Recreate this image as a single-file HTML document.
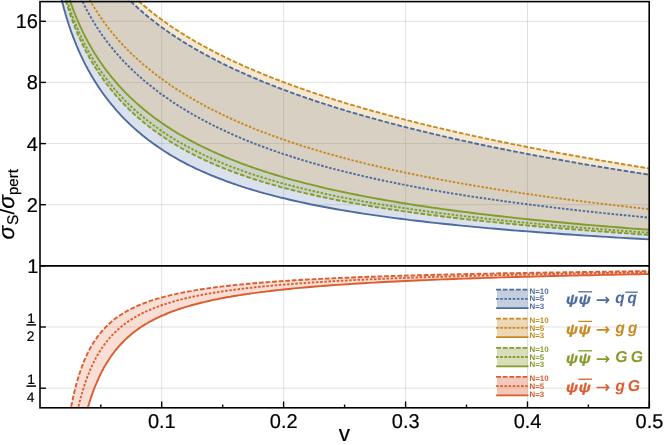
<!DOCTYPE html>
<html><head><meta charset="utf-8"><title>plot</title>
<style>
html,body{margin:0;padding:0;background:#fff;}
body{width:664px;height:445px;overflow:hidden;}
svg{display:block;will-change:transform;font-family:"Liberation Sans",sans-serif;}
text{text-rendering:geometricPrecision;}
</style></head><body>
<svg width="664" height="445" viewBox="0 0 664 445">
<defs><clipPath id="cp"><rect x="40.0" y="0.1" width="609.2" height="407.7"/></clipPath></defs>
<g stroke="#000" stroke-opacity="0.15" stroke-width="0.8" fill="none">
<line x1="161.7" y1="1.6" x2="161.7" y2="407.8"/>
<line x1="283.6" y1="1.6" x2="283.6" y2="407.8"/>
<line x1="405.6" y1="1.6" x2="405.6" y2="407.8"/>
<line x1="527.5" y1="1.6" x2="527.5" y2="407.8"/>
<line x1="40.0" y1="21.3" x2="649.2" y2="21.3"/>
<line x1="40.0" y1="82.4" x2="649.2" y2="82.4"/>
<line x1="40.0" y1="143.6" x2="649.2" y2="143.6"/>
<line x1="40.0" y1="204.7" x2="649.2" y2="204.7"/>
<line x1="40.0" y1="327.0" x2="649.2" y2="327.0"/>
<line x1="40.0" y1="388.2" x2="649.2" y2="388.2"/>
</g>
<g clip-path="url(#cp)" stroke-linejoin="round">
<path d="M44.7,-40.0 L45.2,-40.0 L45.8,-40.0 L46.4,-40.0 L47.0,-40.0 L47.5,-40.0 L48.1,-40.0 L48.7,-40.0 L49.2,-40.0 L49.8,-40.0 L50.4,-40.0 L50.9,-40.0 L51.5,-40.0 L52.1,-40.0 L52.6,-40.0 L53.2,-40.0 L53.8,-39.7 L54.3,-36.2 L54.9,-32.8 L55.5,-29.6 L56.1,-26.4 L56.6,-23.4 L57.2,-20.5 L57.8,-17.6 L58.3,-14.9 L58.9,-12.2 L59.5,-9.6 L60.0,-7.1 L60.6,-4.7 L61.2,-2.3 L61.7,0.0 L62.3,2.3 L62.9,4.5 L63.5,6.7 L64.0,8.8 L64.6,10.8 L65.2,12.8 L65.7,14.8 L66.3,16.7 L66.9,18.6 L67.4,20.4 L68.0,22.2 L68.6,24.0 L69.1,25.7 L69.7,27.4 L70.3,29.0 L70.8,30.7 L71.4,32.3 L72.0,33.8 L72.6,35.4 L73.1,36.9 L73.7,38.4 L74.3,39.9 L74.8,41.3 L75.4,42.7 L76.0,44.1 L76.5,45.5 L77.1,46.9 L77.7,48.2 L78.2,49.5 L78.8,50.8 L79.4,52.1 L80.0,53.4 L80.5,54.6 L81.1,55.8 L81.7,57.0 L82.2,58.2 L82.8,59.4 L83.4,60.6 L83.9,61.7 L84.5,62.9 L85.1,64.0 L85.6,65.1 L86.2,66.2 L86.8,67.2 L87.3,68.3 L87.9,69.4 L88.5,70.4 L89.1,71.4 L89.6,72.4 L90.2,73.4 L90.8,74.4 L91.3,75.4 L91.9,76.4 L92.5,77.3 L93.0,78.3 L93.6,79.2 L94.2,80.1 L94.7,81.1 L95.3,82.0 L95.9,82.9 L96.5,83.8 L97.0,84.6 L97.6,85.5 L98.2,86.4 L98.7,87.2 L99.3,88.1 L99.9,88.9 L100.4,89.7 L101.0,90.6 L101.6,91.4 L102.1,92.2 L102.7,93.0 L103.3,93.8 L103.8,94.6 L104.4,95.3 L105.0,96.1 L105.6,96.9 L106.1,97.6 L106.7,98.4 L107.3,99.1 L107.8,99.9 L108.4,100.6 L109.0,101.3 L109.5,102.0 L110.1,102.7 L110.7,103.4 L111.2,104.1 L111.8,104.8 L112.4,105.5 L113.0,106.2 L114.8,108.4 L116.7,110.6 L118.6,112.7 L120.5,114.8 L122.4,116.8 L124.3,118.8 L126.2,120.7 L128.1,122.5 L130.0,124.4 L131.9,126.1 L133.8,127.9 L135.7,129.6 L137.6,131.2 L139.5,132.8 L141.4,134.4 L143.3,136.0 L145.2,137.5 L147.1,139.0 L149.0,140.4 L150.9,141.8 L152.8,143.2 L154.7,144.6 L156.6,145.9 L158.5,147.2 L160.4,148.5 L162.3,149.8 L164.2,151.0 L166.1,152.2 L168.0,153.4 L169.8,154.6 L171.7,155.7 L173.6,156.8 L175.5,157.9 L177.4,159.0 L179.3,160.1 L181.2,161.1 L183.1,162.1 L185.0,163.1 L186.9,164.1 L188.8,165.1 L190.7,166.0 L192.6,166.9 L194.5,167.9 L196.4,168.8 L198.3,169.6 L200.2,170.5 L202.1,171.4 L204.0,172.2 L205.9,173.0 L207.8,173.9 L209.7,174.7 L211.6,175.5 L213.5,176.2 L215.4,177.0 L217.3,177.7 L219.2,178.5 L221.1,179.2 L223.0,179.9 L224.8,180.6 L226.7,181.3 L228.6,182.0 L230.5,182.7 L232.4,183.4 L234.3,184.0 L236.2,184.7 L238.1,185.3 L240.0,185.9 L241.9,186.6 L243.8,187.2 L245.7,187.8 L247.6,188.4 L249.5,188.9 L251.4,189.5 L253.3,190.1 L255.2,190.7 L257.1,191.2 L259.0,191.8 L260.9,192.3 L262.8,192.8 L264.7,193.4 L266.6,193.9 L268.5,194.4 L270.4,194.9 L272.3,195.4 L274.2,195.9 L276.1,196.4 L278.0,196.8 L279.8,197.3 L281.7,197.8 L283.6,198.2 L288.9,199.5 L294.2,200.7 L299.5,201.9 L304.8,203.0 L310.1,204.2 L315.4,205.2 L320.7,206.3 L326.0,207.3 L331.3,208.2 L336.6,209.2 L341.9,210.1 L347.3,211.0 L352.6,211.9 L357.9,212.7 L363.2,213.6 L368.5,214.4 L373.8,215.1 L379.1,215.9 L384.4,216.6 L389.7,217.4 L395.0,218.1 L400.3,218.8 L405.6,219.4 L410.9,220.1 L416.2,220.7 L421.5,221.3 L426.8,222.0 L432.1,222.6 L437.4,223.1 L442.7,223.7 L448.0,224.3 L453.3,224.8 L458.6,225.4 L463.9,225.9 L469.2,226.4 L474.5,226.9 L479.8,227.4 L485.1,227.9 L490.4,228.4 L495.7,228.8 L501.0,229.3 L506.3,229.7 L511.6,230.2 L516.9,230.6 L522.2,231.0 L527.5,231.4 L532.8,231.8 L538.1,232.2 L543.4,232.6 L548.7,233.0 L554.0,233.4 L559.3,233.8 L564.6,234.2 L569.9,234.5 L575.2,234.9 L580.5,235.2 L585.8,235.6 L591.1,235.9 L596.4,236.3 L601.7,236.6 L607.0,236.9 L612.3,237.2 L617.6,237.6 L622.9,237.9 L628.2,238.2 L633.5,238.5 L638.8,238.8 L644.1,239.1 L649.4,239.4 L649.4,174.7 L644.1,173.9 L638.8,173.1 L633.5,172.3 L628.2,171.4 L622.9,170.6 L617.6,169.7 L612.3,168.9 L607.0,168.0 L601.7,167.1 L596.4,166.3 L591.1,165.4 L585.8,164.5 L580.5,163.6 L575.2,162.6 L569.9,161.7 L564.6,160.8 L559.3,159.8 L554.0,158.9 L548.7,157.9 L543.4,156.9 L538.1,156.0 L532.8,155.0 L527.5,154.0 L522.2,152.9 L516.9,151.9 L511.6,150.9 L506.3,149.8 L501.0,148.8 L495.7,147.7 L490.4,146.6 L485.1,145.5 L479.8,144.4 L474.5,143.2 L469.2,142.1 L463.9,140.9 L458.6,139.8 L453.3,138.6 L448.0,137.4 L442.7,136.2 L437.4,134.9 L432.1,133.7 L426.8,132.4 L421.5,131.1 L416.2,129.8 L410.9,128.5 L405.6,127.2 L400.3,125.8 L395.0,124.4 L389.7,123.0 L384.4,121.6 L379.1,120.2 L373.8,118.7 L368.5,117.2 L363.2,115.7 L357.9,114.2 L352.6,112.6 L347.3,111.1 L341.9,109.4 L336.6,107.8 L331.3,106.1 L326.0,104.5 L320.7,102.7 L315.4,101.0 L310.1,99.2 L304.8,97.4 L299.5,95.5 L294.2,93.6 L288.9,91.7 L283.6,89.7 L281.7,89.0 L279.8,88.3 L278.0,87.6 L276.1,86.8 L274.2,86.1 L272.3,85.4 L270.4,84.6 L268.5,83.9 L266.6,83.1 L264.7,82.3 L262.8,81.6 L260.9,80.8 L259.0,80.0 L257.1,79.2 L255.2,78.4 L253.3,77.6 L251.4,76.8 L249.5,76.0 L247.6,75.2 L245.7,74.3 L243.8,73.5 L241.9,72.6 L240.0,71.8 L238.1,70.9 L236.2,70.1 L234.3,69.2 L232.4,68.3 L230.5,67.4 L228.6,66.5 L226.7,65.6 L224.8,64.7 L223.0,63.7 L221.1,62.8 L219.2,61.8 L217.3,60.9 L215.4,59.9 L213.5,58.9 L211.6,58.0 L209.7,57.0 L207.8,55.9 L205.9,54.9 L204.0,53.9 L202.1,52.9 L200.2,51.8 L198.3,50.7 L196.4,49.7 L194.5,48.6 L192.6,47.5 L190.7,46.3 L188.8,45.2 L186.9,44.1 L185.0,42.9 L183.1,41.7 L181.2,40.5 L179.3,39.3 L177.4,38.1 L175.5,36.9 L173.6,35.6 L171.7,34.3 L169.8,33.0 L168.0,31.7 L166.1,30.4 L164.2,29.0 L162.3,27.7 L160.4,26.3 L158.5,24.9 L156.6,23.4 L154.7,22.0 L152.8,20.5 L150.9,19.0 L149.0,17.5 L147.1,15.9 L145.2,14.3 L143.3,12.7 L141.4,11.1 L139.5,9.4 L137.6,7.7 L135.7,5.9 L133.8,4.2 L131.9,2.4 L130.0,0.5 L128.1,-1.4 L126.2,-3.3 L124.3,-5.3 L122.4,-7.3 L120.5,-9.3 L118.6,-11.4 L116.7,-13.6 L114.8,-15.8 L113.0,-18.1 L112.4,-18.8 L111.8,-19.5 L111.2,-20.2 L110.7,-20.9 L110.1,-21.6 L109.5,-22.3 L109.0,-23.0 L108.4,-23.8 L107.8,-24.5 L107.3,-25.2 L106.7,-26.0 L106.1,-26.7 L105.6,-27.5 L105.0,-28.3 L104.4,-29.1 L103.8,-29.8 L103.3,-30.6 L102.7,-31.4 L102.1,-32.2 L101.6,-33.0 L101.0,-33.9 L100.4,-34.7 L99.9,-35.5 L99.3,-36.4 L98.7,-37.2 L98.2,-38.1 L97.6,-38.9 L97.0,-39.8 L96.5,-40.0 L95.9,-40.0 L95.3,-40.0 L94.7,-40.0 L94.2,-40.0 L93.6,-40.0 L93.0,-40.0 L92.5,-40.0 L91.9,-40.0 L91.3,-40.0 L90.8,-40.0 L90.2,-40.0 L89.6,-40.0 L89.1,-40.0 L88.5,-40.0 L87.9,-40.0 L87.3,-40.0 L86.8,-40.0 L86.2,-40.0 L85.6,-40.0 L85.1,-40.0 L84.5,-40.0 L83.9,-40.0 L83.4,-40.0 L82.8,-40.0 L82.2,-40.0 L81.7,-40.0 L81.1,-40.0 L80.5,-40.0 L80.0,-40.0 L79.4,-40.0 L78.8,-40.0 L78.2,-40.0 L77.7,-40.0 L77.1,-40.0 L76.5,-40.0 L76.0,-40.0 L75.4,-40.0 L74.8,-40.0 L74.3,-40.0 L73.7,-40.0 L73.1,-40.0 L72.6,-40.0 L72.0,-40.0 L71.4,-40.0 L70.8,-40.0 L70.3,-40.0 L69.7,-40.0 L69.1,-40.0 L68.6,-40.0 L68.0,-40.0 L67.4,-40.0 L66.9,-40.0 L66.3,-40.0 L65.7,-40.0 L65.2,-40.0 L64.6,-40.0 L64.0,-40.0 L63.5,-40.0 L62.9,-40.0 L62.3,-40.0 L61.7,-40.0 L61.2,-40.0 L60.6,-40.0 L60.0,-40.0 L59.5,-40.0 L58.9,-40.0 L58.3,-40.0 L57.8,-40.0 L57.2,-40.0 L56.6,-40.0 L56.1,-40.0 L55.5,-40.0 L54.9,-40.0 L54.3,-40.0 L53.8,-40.0 L53.2,-40.0 L52.6,-40.0 L52.1,-40.0 L51.5,-40.0 L50.9,-40.0 L50.4,-40.0 L49.8,-40.0 L49.2,-40.0 L48.7,-40.0 L48.1,-40.0 L47.5,-40.0 L47.0,-40.0 L46.4,-40.0 L45.8,-40.0 L45.2,-40.0 L44.7,-40.0 Z" fill="#4d6b9f" fill-opacity="0.2" stroke="none"/>
<path d="M44.7,-40.0 L45.2,-40.0 L45.8,-40.0 L46.4,-40.0 L47.0,-40.0 L47.5,-40.0 L48.1,-40.0 L48.7,-40.0 L49.2,-40.0 L49.8,-40.0 L50.4,-40.0 L50.9,-40.0 L51.5,-40.0 L52.1,-40.0 L52.6,-40.0 L53.2,-40.0 L53.8,-40.0 L54.3,-40.0 L54.9,-40.0 L55.5,-40.0 L56.1,-40.0 L56.6,-40.0 L57.2,-40.0 L57.8,-40.0 L58.3,-40.0 L58.9,-39.8 L59.5,-37.2 L60.0,-34.7 L60.6,-32.3 L61.2,-29.9 L61.7,-27.6 L62.3,-25.3 L62.9,-23.1 L63.5,-20.9 L64.0,-18.8 L64.6,-16.8 L65.2,-14.8 L65.7,-12.8 L66.3,-10.9 L66.9,-9.0 L67.4,-7.2 L68.0,-5.4 L68.6,-3.6 L69.1,-1.9 L69.7,-0.2 L70.3,1.4 L70.8,3.1 L71.4,4.7 L72.0,6.2 L72.6,7.8 L73.1,9.3 L73.7,10.8 L74.3,12.3 L74.8,13.7 L75.4,15.1 L76.0,16.5 L76.5,17.9 L77.1,19.3 L77.7,20.6 L78.2,21.9 L78.8,23.2 L79.4,24.5 L80.0,25.8 L80.5,27.0 L81.1,28.2 L81.7,29.4 L82.2,30.6 L82.8,31.8 L83.4,33.0 L83.9,34.1 L84.5,35.3 L85.1,36.4 L85.6,37.5 L86.2,38.6 L86.8,39.6 L87.3,40.7 L87.9,41.8 L88.5,42.8 L89.1,43.8 L89.6,44.8 L90.2,45.8 L90.8,46.8 L91.3,47.8 L91.9,48.8 L92.5,49.7 L93.0,50.7 L93.6,51.6 L94.2,52.6 L94.7,53.5 L95.3,54.4 L95.9,55.3 L96.5,56.2 L97.0,57.1 L97.6,57.9 L98.2,58.8 L98.7,59.6 L99.3,60.5 L99.9,61.3 L100.4,62.2 L101.0,63.0 L101.6,63.8 L102.1,64.6 L102.7,65.4 L103.3,66.2 L103.8,67.0 L104.4,67.8 L105.0,68.6 L105.6,69.3 L106.1,70.1 L106.7,70.8 L107.3,71.6 L107.8,72.3 L108.4,73.0 L109.0,73.8 L109.5,74.5 L110.1,75.2 L110.7,75.9 L111.2,76.6 L111.8,77.3 L112.4,78.0 L113.0,78.7 L114.8,80.9 L116.7,83.1 L118.6,85.3 L120.5,87.4 L122.4,89.4 L124.3,91.4 L126.2,93.3 L128.1,95.2 L130.0,97.1 L131.9,98.9 L133.8,100.6 L135.7,102.4 L137.6,104.1 L139.5,105.7 L141.4,107.3 L143.3,108.9 L145.2,110.5 L147.1,112.0 L149.0,113.5 L150.9,115.0 L152.8,116.5 L154.7,117.9 L156.6,119.3 L158.5,120.6 L160.4,122.0 L162.3,123.3 L164.2,124.6 L166.1,125.9 L168.0,127.1 L169.8,128.3 L171.7,129.6 L173.6,130.7 L175.5,131.9 L177.4,133.1 L179.3,134.2 L181.2,135.3 L183.1,136.4 L185.0,137.5 L186.9,138.5 L188.8,139.6 L190.7,140.6 L192.6,141.6 L194.5,142.6 L196.4,143.6 L198.3,144.6 L200.2,145.5 L202.1,146.5 L204.0,147.4 L205.9,148.3 L207.8,149.2 L209.7,150.1 L211.6,151.0 L213.5,151.9 L215.4,152.7 L217.3,153.6 L219.2,154.4 L221.1,155.2 L223.0,156.0 L224.8,156.8 L226.7,157.6 L228.6,158.4 L230.5,159.2 L232.4,159.9 L234.3,160.7 L236.2,161.4 L238.1,162.1 L240.0,162.9 L241.9,163.6 L243.8,164.3 L245.7,165.0 L247.6,165.7 L249.5,166.3 L251.4,167.0 L253.3,167.7 L255.2,168.3 L257.1,169.0 L259.0,169.6 L260.9,170.2 L262.8,170.9 L264.7,171.5 L266.6,172.1 L268.5,172.7 L270.4,173.3 L272.3,173.9 L274.2,174.5 L276.1,175.0 L278.0,175.6 L279.8,176.2 L281.7,176.7 L283.6,177.3 L288.9,178.8 L294.2,180.3 L299.5,181.7 L304.8,183.1 L310.1,184.4 L315.4,185.7 L320.7,187.0 L326.0,188.3 L331.3,189.5 L336.6,190.6 L341.9,191.8 L347.3,192.9 L352.6,194.0 L357.9,195.0 L363.2,196.1 L368.5,197.1 L373.8,198.1 L379.1,199.0 L384.4,200.0 L389.7,200.9 L395.0,201.8 L400.3,202.7 L405.6,203.5 L410.9,204.4 L416.2,205.2 L421.5,206.0 L426.8,206.8 L432.1,207.6 L437.4,208.3 L442.7,209.1 L448.0,209.8 L453.3,210.5 L458.6,211.2 L463.9,211.9 L469.2,212.5 L474.5,213.2 L479.8,213.9 L485.1,214.5 L490.4,215.1 L495.7,215.7 L501.0,216.3 L506.3,216.9 L511.6,217.5 L516.9,218.1 L522.2,218.6 L527.5,219.2 L532.8,219.7 L538.1,220.2 L543.4,220.8 L548.7,221.3 L554.0,221.8 L559.3,222.3 L564.6,222.8 L569.9,223.3 L575.2,223.7 L580.5,224.2 L585.8,224.7 L591.1,225.1 L596.4,225.6 L601.7,226.0 L607.0,226.5 L612.3,226.9 L617.6,227.3 L622.9,227.7 L628.2,228.2 L633.5,228.6 L638.8,229.0 L644.1,229.4 L649.4,229.8 L649.4,168.5 L644.1,167.6 L638.8,166.8 L633.5,165.9 L628.2,165.0 L622.9,164.2 L617.6,163.3 L612.3,162.4 L607.0,161.5 L601.7,160.6 L596.4,159.7 L591.1,158.8 L585.8,157.8 L580.5,156.9 L575.2,156.0 L569.9,155.0 L564.6,154.0 L559.3,153.1 L554.0,152.1 L548.7,151.1 L543.4,150.1 L538.1,149.1 L532.8,148.1 L527.5,147.0 L522.2,146.0 L516.9,144.9 L511.6,143.9 L506.3,142.8 L501.0,141.7 L495.7,140.6 L490.4,139.5 L485.1,138.4 L479.8,137.2 L474.5,136.1 L469.2,134.9 L463.9,133.8 L458.6,132.6 L453.3,131.4 L448.0,130.1 L442.7,128.9 L437.4,127.7 L432.1,126.4 L426.8,125.1 L421.5,123.8 L416.2,122.5 L410.9,121.2 L405.6,119.8 L400.3,118.4 L395.0,117.0 L389.7,115.6 L384.4,114.2 L379.1,112.7 L373.8,111.3 L368.5,109.8 L363.2,108.3 L357.9,106.7 L352.6,105.2 L347.3,103.6 L341.9,101.9 L336.6,100.3 L331.3,98.6 L326.0,96.9 L320.7,95.2 L315.4,93.4 L310.1,91.7 L304.8,89.8 L299.5,88.0 L294.2,86.1 L288.9,84.1 L283.6,82.2 L281.7,81.5 L279.8,80.7 L278.0,80.0 L276.1,79.3 L274.2,78.5 L272.3,77.8 L270.4,77.1 L268.5,76.3 L266.6,75.5 L264.7,74.8 L262.8,74.0 L260.9,73.2 L259.0,72.4 L257.1,71.7 L255.2,70.9 L253.3,70.0 L251.4,69.2 L249.5,68.4 L247.6,67.6 L245.7,66.8 L243.8,65.9 L241.9,65.1 L240.0,64.2 L238.1,63.4 L236.2,62.5 L234.3,61.6 L232.4,60.7 L230.5,59.8 L228.6,58.9 L226.7,58.0 L224.8,57.1 L223.0,56.2 L221.1,55.2 L219.2,54.3 L217.3,53.3 L215.4,52.4 L213.5,51.4 L211.6,50.4 L209.7,49.4 L207.8,48.4 L205.9,47.4 L204.0,46.3 L202.1,45.3 L200.2,44.2 L198.3,43.2 L196.4,42.1 L194.5,41.0 L192.6,39.9 L190.7,38.8 L188.8,37.6 L186.9,36.5 L185.0,35.3 L183.1,34.1 L181.2,33.0 L179.3,31.7 L177.4,30.5 L175.5,29.3 L173.6,28.0 L171.7,26.8 L169.8,25.5 L168.0,24.2 L166.1,22.8 L164.2,21.5 L162.3,20.1 L160.4,18.7 L158.5,17.3 L156.6,15.9 L154.7,14.4 L152.8,12.9 L150.9,11.4 L149.0,9.9 L147.1,8.3 L145.2,6.7 L143.3,5.1 L141.4,3.5 L139.5,1.8 L137.6,0.1 L135.7,-1.6 L133.8,-3.4 L131.9,-5.2 L130.0,-7.1 L128.1,-8.9 L126.2,-10.9 L124.3,-12.8 L122.4,-14.8 L120.5,-16.9 L118.6,-19.0 L116.7,-21.2 L114.8,-23.4 L113.0,-25.6 L112.4,-26.3 L111.8,-27.0 L111.2,-27.7 L110.7,-28.4 L110.1,-29.2 L109.5,-29.9 L109.0,-30.6 L108.4,-31.3 L107.8,-32.1 L107.3,-32.8 L106.7,-33.6 L106.1,-34.3 L105.6,-35.1 L105.0,-35.8 L104.4,-36.6 L103.8,-37.4 L103.3,-38.2 L102.7,-39.0 L102.1,-39.8 L101.6,-40.0 L101.0,-40.0 L100.4,-40.0 L99.9,-40.0 L99.3,-40.0 L98.7,-40.0 L98.2,-40.0 L97.6,-40.0 L97.0,-40.0 L96.5,-40.0 L95.9,-40.0 L95.3,-40.0 L94.7,-40.0 L94.2,-40.0 L93.6,-40.0 L93.0,-40.0 L92.5,-40.0 L91.9,-40.0 L91.3,-40.0 L90.8,-40.0 L90.2,-40.0 L89.6,-40.0 L89.1,-40.0 L88.5,-40.0 L87.9,-40.0 L87.3,-40.0 L86.8,-40.0 L86.2,-40.0 L85.6,-40.0 L85.1,-40.0 L84.5,-40.0 L83.9,-40.0 L83.4,-40.0 L82.8,-40.0 L82.2,-40.0 L81.7,-40.0 L81.1,-40.0 L80.5,-40.0 L80.0,-40.0 L79.4,-40.0 L78.8,-40.0 L78.2,-40.0 L77.7,-40.0 L77.1,-40.0 L76.5,-40.0 L76.0,-40.0 L75.4,-40.0 L74.8,-40.0 L74.3,-40.0 L73.7,-40.0 L73.1,-40.0 L72.6,-40.0 L72.0,-40.0 L71.4,-40.0 L70.8,-40.0 L70.3,-40.0 L69.7,-40.0 L69.1,-40.0 L68.6,-40.0 L68.0,-40.0 L67.4,-40.0 L66.9,-40.0 L66.3,-40.0 L65.7,-40.0 L65.2,-40.0 L64.6,-40.0 L64.0,-40.0 L63.5,-40.0 L62.9,-40.0 L62.3,-40.0 L61.7,-40.0 L61.2,-40.0 L60.6,-40.0 L60.0,-40.0 L59.5,-40.0 L58.9,-40.0 L58.3,-40.0 L57.8,-40.0 L57.2,-40.0 L56.6,-40.0 L56.1,-40.0 L55.5,-40.0 L54.9,-40.0 L54.3,-40.0 L53.8,-40.0 L53.2,-40.0 L52.6,-40.0 L52.1,-40.0 L51.5,-40.0 L50.9,-40.0 L50.4,-40.0 L49.8,-40.0 L49.2,-40.0 L48.7,-40.0 L48.1,-40.0 L47.5,-40.0 L47.0,-40.0 L46.4,-40.0 L45.8,-40.0 L45.2,-40.0 L44.7,-40.0 Z" fill="#c88a20" fill-opacity="0.2" stroke="none"/>
<path d="M44.7,-40.0 L45.2,-40.0 L45.8,-40.0 L46.4,-40.0 L47.0,-40.0 L47.5,-40.0 L48.1,-40.0 L48.7,-40.0 L49.2,-40.0 L49.8,-40.0 L50.4,-40.0 L50.9,-40.0 L51.5,-40.0 L52.1,-40.0 L52.6,-40.0 L53.2,-40.0 L53.8,-40.0 L54.3,-40.0 L54.9,-40.0 L55.5,-40.0 L56.1,-40.0 L56.6,-40.0 L57.2,-40.0 L57.8,-40.0 L58.3,-40.0 L58.9,-39.8 L59.5,-37.2 L60.0,-34.7 L60.6,-32.3 L61.2,-29.9 L61.7,-27.6 L62.3,-25.3 L62.9,-23.1 L63.5,-20.9 L64.0,-18.8 L64.6,-16.8 L65.2,-14.8 L65.7,-12.8 L66.3,-10.9 L66.9,-9.0 L67.4,-7.2 L68.0,-5.4 L68.6,-3.6 L69.1,-1.9 L69.7,-0.2 L70.3,1.4 L70.8,3.1 L71.4,4.7 L72.0,6.2 L72.6,7.8 L73.1,9.3 L73.7,10.8 L74.3,12.3 L74.8,13.7 L75.4,15.1 L76.0,16.5 L76.5,17.9 L77.1,19.3 L77.7,20.6 L78.2,21.9 L78.8,23.2 L79.4,24.5 L80.0,25.8 L80.5,27.0 L81.1,28.2 L81.7,29.4 L82.2,30.6 L82.8,31.8 L83.4,33.0 L83.9,34.1 L84.5,35.3 L85.1,36.4 L85.6,37.5 L86.2,38.6 L86.8,39.6 L87.3,40.7 L87.9,41.8 L88.5,42.8 L89.1,43.8 L89.6,44.8 L90.2,45.8 L90.8,46.8 L91.3,47.8 L91.9,48.8 L92.5,49.7 L93.0,50.7 L93.6,51.6 L94.2,52.6 L94.7,53.5 L95.3,54.4 L95.9,55.3 L96.5,56.2 L97.0,57.1 L97.6,57.9 L98.2,58.8 L98.7,59.6 L99.3,60.5 L99.9,61.3 L100.4,62.2 L101.0,63.0 L101.6,63.8 L102.1,64.6 L102.7,65.4 L103.3,66.2 L103.8,67.0 L104.4,67.8 L105.0,68.6 L105.6,69.3 L106.1,70.1 L106.7,70.8 L107.3,71.6 L107.8,72.3 L108.4,73.0 L109.0,73.8 L109.5,74.5 L110.1,75.2 L110.7,75.9 L111.2,76.6 L111.8,77.3 L112.4,78.0 L113.0,78.7 L114.8,80.9 L116.7,83.1 L118.6,85.3 L120.5,87.4 L122.4,89.4 L124.3,91.4 L126.2,93.3 L128.1,95.2 L130.0,97.1 L131.9,98.9 L133.8,100.6 L135.7,102.4 L137.6,104.1 L139.5,105.7 L141.4,107.3 L143.3,108.9 L145.2,110.5 L147.1,112.0 L149.0,113.5 L150.9,115.0 L152.8,116.5 L154.7,117.9 L156.6,119.3 L158.5,120.6 L160.4,122.0 L162.3,123.3 L164.2,124.6 L166.1,125.9 L168.0,127.1 L169.8,128.3 L171.7,129.6 L173.6,130.7 L175.5,131.9 L177.4,133.1 L179.3,134.2 L181.2,135.3 L183.1,136.4 L185.0,137.5 L186.9,138.5 L188.8,139.6 L190.7,140.6 L192.6,141.6 L194.5,142.6 L196.4,143.6 L198.3,144.6 L200.2,145.5 L202.1,146.5 L204.0,147.4 L205.9,148.3 L207.8,149.2 L209.7,150.1 L211.6,151.0 L213.5,151.9 L215.4,152.7 L217.3,153.6 L219.2,154.4 L221.1,155.2 L223.0,156.0 L224.8,156.8 L226.7,157.6 L228.6,158.4 L230.5,159.2 L232.4,159.9 L234.3,160.7 L236.2,161.4 L238.1,162.1 L240.0,162.9 L241.9,163.6 L243.8,164.3 L245.7,165.0 L247.6,165.7 L249.5,166.3 L251.4,167.0 L253.3,167.7 L255.2,168.3 L257.1,169.0 L259.0,169.6 L260.9,170.2 L262.8,170.9 L264.7,171.5 L266.6,172.1 L268.5,172.7 L270.4,173.3 L272.3,173.9 L274.2,174.5 L276.1,175.0 L278.0,175.6 L279.8,176.2 L281.7,176.7 L283.6,177.3 L288.9,178.8 L294.2,180.3 L299.5,181.7 L304.8,183.1 L310.1,184.4 L315.4,185.7 L320.7,187.0 L326.0,188.3 L331.3,189.5 L336.6,190.6 L341.9,191.8 L347.3,192.9 L352.6,194.0 L357.9,195.0 L363.2,196.1 L368.5,197.1 L373.8,198.1 L379.1,199.0 L384.4,200.0 L389.7,200.9 L395.0,201.8 L400.3,202.7 L405.6,203.5 L410.9,204.4 L416.2,205.2 L421.5,206.0 L426.8,206.8 L432.1,207.6 L437.4,208.3 L442.7,209.1 L448.0,209.8 L453.3,210.5 L458.6,211.2 L463.9,211.9 L469.2,212.5 L474.5,213.2 L479.8,213.9 L485.1,214.5 L490.4,215.1 L495.7,215.7 L501.0,216.3 L506.3,216.9 L511.6,217.5 L516.9,218.1 L522.2,218.6 L527.5,219.2 L532.8,219.7 L538.1,220.2 L543.4,220.8 L548.7,221.3 L554.0,221.8 L559.3,222.3 L564.6,222.8 L569.9,223.3 L575.2,223.7 L580.5,224.2 L585.8,224.7 L591.1,225.1 L596.4,225.6 L601.7,226.0 L607.0,226.5 L612.3,226.9 L617.6,227.3 L622.9,227.7 L628.2,228.2 L633.5,228.6 L638.8,229.0 L644.1,229.4 L649.4,229.8 L649.4,234.9 L644.1,234.5 L638.8,234.2 L633.5,233.8 L628.2,233.4 L622.9,233.1 L617.6,232.7 L612.3,232.3 L607.0,231.9 L601.7,231.6 L596.4,231.2 L591.1,230.8 L585.8,230.4 L580.5,229.9 L575.2,229.5 L569.9,229.1 L564.6,228.7 L559.3,228.2 L554.0,227.8 L548.7,227.3 L543.4,226.9 L538.1,226.4 L532.8,226.0 L527.5,225.5 L522.2,225.0 L516.9,224.5 L511.6,224.0 L506.3,223.5 L501.0,222.9 L495.7,222.4 L490.4,221.9 L485.1,221.3 L479.8,220.7 L474.5,220.2 L469.2,219.6 L463.9,219.0 L458.6,218.4 L453.3,217.8 L448.0,217.1 L442.7,216.5 L437.4,215.8 L432.1,215.1 L426.8,214.5 L421.5,213.8 L416.2,213.0 L410.9,212.3 L405.6,211.6 L400.3,210.8 L395.0,210.0 L389.7,209.2 L384.4,208.4 L379.1,207.5 L373.8,206.7 L368.5,205.8 L363.2,204.9 L357.9,203.9 L352.6,203.0 L347.3,202.0 L341.9,201.0 L336.6,200.0 L331.3,198.9 L326.0,197.8 L320.7,196.7 L315.4,195.5 L310.1,194.3 L304.8,193.1 L299.5,191.8 L294.2,190.5 L288.9,189.2 L283.6,187.8 L281.7,187.3 L279.8,186.8 L278.0,186.2 L276.1,185.7 L274.2,185.2 L272.3,184.6 L270.4,184.1 L268.5,183.5 L266.6,183.0 L264.7,182.4 L262.8,181.8 L260.9,181.3 L259.0,180.7 L257.1,180.1 L255.2,179.5 L253.3,178.9 L251.4,178.2 L249.5,177.6 L247.6,177.0 L245.7,176.3 L243.8,175.7 L241.9,175.0 L240.0,174.4 L238.1,173.7 L236.2,173.0 L234.3,172.3 L232.4,171.6 L230.5,170.9 L228.6,170.1 L226.7,169.4 L224.8,168.7 L223.0,167.9 L221.1,167.1 L219.2,166.4 L217.3,165.6 L215.4,164.8 L213.5,163.9 L211.6,163.1 L209.7,162.3 L207.8,161.4 L205.9,160.6 L204.0,159.7 L202.1,158.8 L200.2,157.9 L198.3,157.0 L196.4,156.0 L194.5,155.1 L192.6,154.1 L190.7,153.1 L188.8,152.1 L186.9,151.1 L185.0,150.1 L183.1,149.0 L181.2,148.0 L179.3,146.9 L177.4,145.8 L175.5,144.7 L173.6,143.5 L171.7,142.4 L169.8,141.2 L168.0,140.0 L166.1,138.7 L164.2,137.5 L162.3,136.2 L160.4,134.9 L158.5,133.6 L156.6,132.2 L154.7,130.9 L152.8,129.5 L150.9,128.0 L149.0,126.6 L147.1,125.1 L145.2,123.6 L143.3,122.0 L141.4,120.4 L139.5,118.8 L137.6,117.2 L135.7,115.5 L133.8,113.8 L131.9,112.0 L130.0,110.2 L128.1,108.3 L126.2,106.5 L124.3,104.5 L122.4,102.5 L120.5,100.5 L118.6,98.4 L116.7,96.3 L114.8,94.1 L113.0,91.9 L112.4,91.2 L111.8,90.5 L111.2,89.8 L110.7,89.1 L110.1,88.4 L109.5,87.7 L109.0,86.9 L108.4,86.2 L107.8,85.5 L107.3,84.7 L106.7,84.0 L106.1,83.2 L105.6,82.5 L105.0,81.7 L104.4,80.9 L103.8,80.2 L103.3,79.4 L102.7,78.6 L102.1,77.8 L101.6,77.0 L101.0,76.1 L100.4,75.3 L99.9,74.5 L99.3,73.7 L98.7,72.8 L98.2,71.9 L97.6,71.1 L97.0,70.2 L96.5,69.3 L95.9,68.4 L95.3,67.5 L94.7,66.6 L94.2,65.7 L93.6,64.8 L93.0,63.8 L92.5,62.9 L91.9,61.9 L91.3,61.0 L90.8,60.0 L90.2,59.0 L89.6,58.0 L89.1,57.0 L88.5,55.9 L87.9,54.9 L87.3,53.9 L86.8,52.8 L86.2,51.7 L85.6,50.6 L85.1,49.5 L84.5,48.4 L83.9,47.3 L83.4,46.1 L82.8,45.0 L82.2,43.8 L81.7,42.6 L81.1,41.4 L80.5,40.2 L80.0,38.9 L79.4,37.7 L78.8,36.4 L78.2,35.1 L77.7,33.8 L77.1,32.4 L76.5,31.1 L76.0,29.7 L75.4,28.3 L74.8,26.9 L74.3,25.4 L73.7,24.0 L73.1,22.5 L72.6,20.9 L72.0,19.4 L71.4,17.8 L70.8,16.2 L70.3,14.6 L69.7,12.9 L69.1,11.2 L68.6,9.5 L68.0,7.7 L67.4,5.9 L66.9,4.1 L66.3,2.2 L65.7,0.3 L65.2,-1.6 L64.6,-3.6 L64.0,-5.7 L63.5,-7.8 L62.9,-9.9 L62.3,-12.1 L61.7,-14.4 L61.2,-16.7 L60.6,-19.1 L60.0,-21.5 L59.5,-24.1 L58.9,-26.7 L58.3,-29.3 L57.8,-32.1 L57.2,-34.9 L56.6,-37.9 L56.1,-40.0 L55.5,-40.0 L54.9,-40.0 L54.3,-40.0 L53.8,-40.0 L53.2,-40.0 L52.6,-40.0 L52.1,-40.0 L51.5,-40.0 L50.9,-40.0 L50.4,-40.0 L49.8,-40.0 L49.2,-40.0 L48.7,-40.0 L48.1,-40.0 L47.5,-40.0 L47.0,-40.0 L46.4,-40.0 L45.8,-40.0 L45.2,-40.0 L44.7,-40.0 Z" fill="#859b2c" fill-opacity="0.2" stroke="none"/>
<path d="M44.7,460.0 L45.2,460.0 L45.8,460.0 L46.4,460.0 L47.0,460.0 L47.5,460.0 L48.1,460.0 L48.7,460.0 L49.2,460.0 L49.8,460.0 L50.4,460.0 L50.9,460.0 L51.5,460.0 L52.1,460.0 L52.6,460.0 L53.2,460.0 L53.8,460.0 L54.3,460.0 L54.9,460.0 L55.5,460.0 L56.1,460.0 L56.6,460.0 L57.2,460.0 L57.8,460.0 L58.3,460.0 L58.9,460.0 L59.5,460.0 L60.0,460.0 L60.6,460.0 L61.2,460.0 L61.7,460.0 L62.3,460.0 L62.9,460.0 L63.5,460.0 L64.0,460.0 L64.6,460.0 L65.2,460.0 L65.7,460.0 L66.3,460.0 L66.9,460.0 L67.4,460.0 L68.0,460.0 L68.6,460.0 L69.1,460.0 L69.7,460.0 L70.3,460.0 L70.8,460.0 L71.4,460.0 L72.0,460.0 L72.6,460.0 L73.1,460.0 L73.7,460.0 L74.3,460.0 L74.8,460.0 L75.4,460.0 L76.0,460.0 L76.5,459.7 L77.1,456.2 L77.7,452.9 L78.2,449.6 L78.8,446.5 L79.4,443.5 L80.0,440.5 L80.5,437.7 L81.1,434.9 L81.7,432.2 L82.2,429.6 L82.8,427.1 L83.4,424.6 L83.9,422.2 L84.5,419.9 L85.1,417.7 L85.6,415.5 L86.2,413.4 L86.8,411.3 L87.3,409.3 L87.9,407.3 L88.5,405.4 L89.1,403.6 L89.6,401.7 L90.2,400.0 L90.8,398.2 L91.3,396.6 L91.9,394.9 L92.5,393.3 L93.0,391.8 L93.6,390.2 L94.2,388.7 L94.7,387.3 L95.3,385.9 L95.9,384.5 L96.5,383.1 L97.0,381.8 L97.6,380.5 L98.2,379.2 L98.7,377.9 L99.3,376.7 L99.9,375.5 L100.4,374.4 L101.0,373.2 L101.6,372.1 L102.1,371.0 L102.7,369.9 L103.3,368.9 L103.8,367.8 L104.4,366.8 L105.0,365.8 L105.6,364.8 L106.1,363.9 L106.7,362.9 L107.3,362.0 L107.8,361.1 L108.4,360.2 L109.0,359.3 L109.5,358.5 L110.1,357.6 L110.7,356.8 L111.2,356.0 L111.8,355.2 L112.4,354.4 L113.0,353.6 L114.8,351.2 L116.7,348.8 L118.6,346.6 L120.5,344.5 L122.4,342.5 L124.3,340.6 L126.2,338.7 L128.1,337.0 L130.0,335.4 L131.9,333.8 L133.8,332.3 L135.7,330.8 L137.6,329.4 L139.5,328.1 L141.4,326.8 L143.3,325.6 L145.2,324.4 L147.1,323.3 L149.0,322.2 L150.9,321.2 L152.8,320.1 L154.7,319.2 L156.6,318.2 L158.5,317.3 L160.4,316.4 L162.3,315.6 L164.2,314.8 L166.1,314.0 L168.0,313.2 L169.8,312.4 L171.7,311.7 L173.6,311.0 L175.5,310.3 L177.4,309.7 L179.3,309.0 L181.2,308.4 L183.1,307.8 L185.0,307.2 L186.9,306.6 L188.8,306.1 L190.7,305.5 L192.6,305.0 L194.5,304.5 L196.4,304.0 L198.3,303.5 L200.2,303.0 L202.1,302.5 L204.0,302.1 L205.9,301.6 L207.8,301.2 L209.7,300.8 L211.6,300.3 L213.5,299.9 L215.4,299.5 L217.3,299.2 L219.2,298.8 L221.1,298.4 L223.0,298.0 L224.8,297.7 L226.7,297.3 L228.6,297.0 L230.5,296.7 L232.4,296.3 L234.3,296.0 L236.2,295.7 L238.1,295.4 L240.0,295.1 L241.9,294.8 L243.8,294.5 L245.7,294.2 L247.6,293.9 L249.5,293.7 L251.4,293.4 L253.3,293.1 L255.2,292.9 L257.1,292.6 L259.0,292.4 L260.9,292.1 L262.8,291.9 L264.7,291.7 L266.6,291.4 L268.5,291.2 L270.4,291.0 L272.3,290.7 L274.2,290.5 L276.1,290.3 L278.0,290.1 L279.8,289.9 L281.7,289.7 L283.6,289.5 L288.9,289.0 L294.2,288.4 L299.5,287.9 L304.8,287.5 L310.1,287.0 L315.4,286.5 L320.7,286.1 L326.0,285.7 L331.3,285.3 L336.6,284.9 L341.9,284.6 L347.3,284.2 L352.6,283.9 L357.9,283.5 L363.2,283.2 L368.5,282.9 L373.8,282.6 L379.1,282.3 L384.4,282.0 L389.7,281.8 L395.0,281.5 L400.3,281.2 L405.6,281.0 L410.9,280.8 L416.2,280.5 L421.5,280.3 L426.8,280.1 L432.1,279.8 L437.4,279.6 L442.7,279.4 L448.0,279.2 L453.3,279.0 L458.6,278.8 L463.9,278.6 L469.2,278.5 L474.5,278.3 L479.8,278.1 L485.1,277.9 L490.4,277.8 L495.7,277.6 L501.0,277.4 L506.3,277.3 L511.6,277.1 L516.9,277.0 L522.2,276.8 L527.5,276.7 L532.8,276.6 L538.1,276.4 L543.4,276.3 L548.7,276.1 L554.0,276.0 L559.3,275.9 L564.6,275.8 L569.9,275.6 L575.2,275.5 L580.5,275.4 L585.8,275.3 L591.1,275.2 L596.4,275.1 L601.7,274.9 L607.0,274.8 L612.3,274.7 L617.6,274.6 L622.9,274.5 L628.2,274.4 L633.5,274.3 L638.8,274.2 L644.1,274.1 L649.4,274.0 L649.4,271.2 L644.1,271.2 L638.8,271.3 L633.5,271.3 L628.2,271.4 L622.9,271.5 L617.6,271.5 L612.3,271.6 L607.0,271.7 L601.7,271.7 L596.4,271.8 L591.1,271.9 L585.8,272.0 L580.5,272.0 L575.2,272.1 L569.9,272.2 L564.6,272.3 L559.3,272.4 L554.0,272.4 L548.7,272.5 L543.4,272.6 L538.1,272.7 L532.8,272.8 L527.5,272.9 L522.2,273.0 L516.9,273.1 L511.6,273.2 L506.3,273.2 L501.0,273.3 L495.7,273.5 L490.4,273.6 L485.1,273.7 L479.8,273.8 L474.5,273.9 L469.2,274.0 L463.9,274.1 L458.6,274.2 L453.3,274.4 L448.0,274.5 L442.7,274.6 L437.4,274.7 L432.1,274.9 L426.8,275.0 L421.5,275.2 L416.2,275.3 L410.9,275.5 L405.6,275.6 L400.3,275.8 L395.0,275.9 L389.7,276.1 L384.4,276.3 L379.1,276.5 L373.8,276.7 L368.5,276.8 L363.2,277.0 L357.9,277.2 L352.6,277.5 L347.3,277.7 L341.9,277.9 L336.6,278.1 L331.3,278.4 L326.0,278.6 L320.7,278.9 L315.4,279.2 L310.1,279.4 L304.8,279.7 L299.5,280.0 L294.2,280.3 L288.9,280.7 L283.6,281.0 L281.7,281.1 L279.8,281.3 L278.0,281.4 L276.1,281.5 L274.2,281.7 L272.3,281.8 L270.4,281.9 L268.5,282.1 L266.6,282.2 L264.7,282.4 L262.8,282.5 L260.9,282.7 L259.0,282.8 L257.1,283.0 L255.2,283.2 L253.3,283.3 L251.4,283.5 L249.5,283.7 L247.6,283.8 L245.7,284.0 L243.8,284.2 L241.9,284.4 L240.0,284.5 L238.1,284.7 L236.2,284.9 L234.3,285.1 L232.4,285.3 L230.5,285.5 L228.6,285.7 L226.7,286.0 L224.8,286.2 L223.0,286.4 L221.1,286.6 L219.2,286.9 L217.3,287.1 L215.4,287.3 L213.5,287.6 L211.6,287.8 L209.7,288.1 L207.8,288.4 L205.9,288.6 L204.0,288.9 L202.1,289.2 L200.2,289.5 L198.3,289.8 L196.4,290.1 L194.5,290.4 L192.6,290.7 L190.7,291.1 L188.8,291.4 L186.9,291.8 L185.0,292.1 L183.1,292.5 L181.2,292.9 L179.3,293.2 L177.4,293.6 L175.5,294.1 L173.6,294.5 L171.7,294.9 L169.8,295.4 L168.0,295.8 L166.1,296.3 L164.2,296.8 L162.3,297.3 L160.4,297.8 L158.5,298.4 L156.6,298.9 L154.7,299.5 L152.8,300.1 L150.9,300.7 L149.0,301.4 L147.1,302.1 L145.2,302.8 L143.3,303.5 L141.4,304.2 L139.5,305.0 L137.6,305.8 L135.7,306.7 L133.8,307.6 L131.9,308.5 L130.0,309.4 L128.1,310.4 L126.2,311.5 L124.3,312.6 L122.4,313.8 L120.5,315.0 L118.6,316.3 L116.7,317.6 L114.8,319.0 L113.0,320.5 L112.4,321.0 L111.8,321.5 L111.2,321.9 L110.7,322.4 L110.1,322.9 L109.5,323.4 L109.0,324.0 L108.4,324.5 L107.8,325.0 L107.3,325.6 L106.7,326.1 L106.1,326.7 L105.6,327.3 L105.0,327.8 L104.4,328.4 L103.8,329.0 L103.3,329.7 L102.7,330.3 L102.1,330.9 L101.6,331.6 L101.0,332.3 L100.4,333.0 L99.9,333.7 L99.3,334.4 L98.7,335.1 L98.2,335.8 L97.6,336.6 L97.0,337.4 L96.5,338.2 L95.9,339.0 L95.3,339.8 L94.7,340.7 L94.2,341.5 L93.6,342.4 L93.0,343.3 L92.5,344.3 L91.9,345.2 L91.3,346.2 L90.8,347.2 L90.2,348.2 L89.6,349.3 L89.1,350.3 L88.5,351.4 L87.9,352.6 L87.3,353.7 L86.8,354.9 L86.2,356.2 L85.6,357.4 L85.1,358.7 L84.5,360.0 L83.9,361.4 L83.4,362.8 L82.8,364.3 L82.2,365.8 L81.7,367.3 L81.1,368.9 L80.5,370.5 L80.0,372.2 L79.4,373.9 L78.8,375.7 L78.2,377.6 L77.7,379.5 L77.1,381.5 L76.5,383.5 L76.0,385.6 L75.4,387.8 L74.8,390.1 L74.3,392.4 L73.7,394.9 L73.1,397.4 L72.6,400.0 L72.0,402.8 L71.4,405.6 L70.8,408.6 L70.3,411.7 L69.7,414.9 L69.1,418.3 L68.6,421.8 L68.0,425.4 L67.4,429.3 L66.9,433.3 L66.3,437.5 L65.7,441.9 L65.2,446.6 L64.6,451.4 L64.0,456.6 L63.5,460.0 L62.9,460.0 L62.3,460.0 L61.7,460.0 L61.2,460.0 L60.6,460.0 L60.0,460.0 L59.5,460.0 L58.9,460.0 L58.3,460.0 L57.8,460.0 L57.2,460.0 L56.6,460.0 L56.1,460.0 L55.5,460.0 L54.9,460.0 L54.3,460.0 L53.8,460.0 L53.2,460.0 L52.6,460.0 L52.1,460.0 L51.5,460.0 L50.9,460.0 L50.4,460.0 L49.8,460.0 L49.2,460.0 L48.7,460.0 L48.1,460.0 L47.5,460.0 L47.0,460.0 L46.4,460.0 L45.8,460.0 L45.2,460.0 L44.7,460.0 Z" fill="#dd5c2e" fill-opacity="0.2" stroke="none"/>
<path d="M44.7,-40.0 L45.2,-40.0 L45.8,-40.0 L46.4,-40.0 L47.0,-40.0 L47.5,-40.0 L48.1,-40.0 L48.7,-40.0 L49.2,-40.0 L49.8,-40.0 L50.4,-40.0 L50.9,-40.0 L51.5,-40.0 L52.1,-40.0 L52.6,-40.0 L53.2,-40.0 L53.8,-39.7 L54.3,-36.2 L54.9,-32.8 L55.5,-29.6 L56.1,-26.4 L56.6,-23.4 L57.2,-20.5 L57.8,-17.6 L58.3,-14.9 L58.9,-12.2 L59.5,-9.6 L60.0,-7.1 L60.6,-4.7 L61.2,-2.3 L61.7,0.0 L62.3,2.3 L62.9,4.5 L63.5,6.7 L64.0,8.8 L64.6,10.8 L65.2,12.8 L65.7,14.8 L66.3,16.7 L66.9,18.6 L67.4,20.4 L68.0,22.2 L68.6,24.0 L69.1,25.7 L69.7,27.4 L70.3,29.0 L70.8,30.7 L71.4,32.3 L72.0,33.8 L72.6,35.4 L73.1,36.9 L73.7,38.4 L74.3,39.9 L74.8,41.3 L75.4,42.7 L76.0,44.1 L76.5,45.5 L77.1,46.9 L77.7,48.2 L78.2,49.5 L78.8,50.8 L79.4,52.1 L80.0,53.4 L80.5,54.6 L81.1,55.8 L81.7,57.0 L82.2,58.2 L82.8,59.4 L83.4,60.6 L83.9,61.7 L84.5,62.9 L85.1,64.0 L85.6,65.1 L86.2,66.2 L86.8,67.2 L87.3,68.3 L87.9,69.4 L88.5,70.4 L89.1,71.4 L89.6,72.4 L90.2,73.4 L90.8,74.4 L91.3,75.4 L91.9,76.4 L92.5,77.3 L93.0,78.3 L93.6,79.2 L94.2,80.1 L94.7,81.1 L95.3,82.0 L95.9,82.9 L96.5,83.8 L97.0,84.6 L97.6,85.5 L98.2,86.4 L98.7,87.2 L99.3,88.1 L99.9,88.9 L100.4,89.7 L101.0,90.6 L101.6,91.4 L102.1,92.2 L102.7,93.0 L103.3,93.8 L103.8,94.6 L104.4,95.3 L105.0,96.1 L105.6,96.9 L106.1,97.6 L106.7,98.4 L107.3,99.1 L107.8,99.9 L108.4,100.6 L109.0,101.3 L109.5,102.0 L110.1,102.7 L110.7,103.4 L111.2,104.1 L111.8,104.8 L112.4,105.5 L113.0,106.2 L114.8,108.4 L116.7,110.6 L118.6,112.7 L120.5,114.8 L122.4,116.8 L124.3,118.8 L126.2,120.7 L128.1,122.5 L130.0,124.4 L131.9,126.1 L133.8,127.9 L135.7,129.6 L137.6,131.2 L139.5,132.8 L141.4,134.4 L143.3,136.0 L145.2,137.5 L147.1,139.0 L149.0,140.4 L150.9,141.8 L152.8,143.2 L154.7,144.6 L156.6,145.9 L158.5,147.2 L160.4,148.5 L162.3,149.8 L164.2,151.0 L166.1,152.2 L168.0,153.4 L169.8,154.6 L171.7,155.7 L173.6,156.8 L175.5,157.9 L177.4,159.0 L179.3,160.1 L181.2,161.1 L183.1,162.1 L185.0,163.1 L186.9,164.1 L188.8,165.1 L190.7,166.0 L192.6,166.9 L194.5,167.9 L196.4,168.8 L198.3,169.6 L200.2,170.5 L202.1,171.4 L204.0,172.2 L205.9,173.0 L207.8,173.9 L209.7,174.7 L211.6,175.5 L213.5,176.2 L215.4,177.0 L217.3,177.7 L219.2,178.5 L221.1,179.2 L223.0,179.9 L224.8,180.6 L226.7,181.3 L228.6,182.0 L230.5,182.7 L232.4,183.4 L234.3,184.0 L236.2,184.7 L238.1,185.3 L240.0,185.9 L241.9,186.6 L243.8,187.2 L245.7,187.8 L247.6,188.4 L249.5,188.9 L251.4,189.5 L253.3,190.1 L255.2,190.7 L257.1,191.2 L259.0,191.8 L260.9,192.3 L262.8,192.8 L264.7,193.4 L266.6,193.9 L268.5,194.4 L270.4,194.9 L272.3,195.4 L274.2,195.9 L276.1,196.4 L278.0,196.8 L279.8,197.3 L281.7,197.8 L283.6,198.2 L288.9,199.5 L294.2,200.7 L299.5,201.9 L304.8,203.0 L310.1,204.2 L315.4,205.2 L320.7,206.3 L326.0,207.3 L331.3,208.2 L336.6,209.2 L341.9,210.1 L347.3,211.0 L352.6,211.9 L357.9,212.7 L363.2,213.6 L368.5,214.4 L373.8,215.1 L379.1,215.9 L384.4,216.6 L389.7,217.4 L395.0,218.1 L400.3,218.8 L405.6,219.4 L410.9,220.1 L416.2,220.7 L421.5,221.3 L426.8,222.0 L432.1,222.6 L437.4,223.1 L442.7,223.7 L448.0,224.3 L453.3,224.8 L458.6,225.4 L463.9,225.9 L469.2,226.4 L474.5,226.9 L479.8,227.4 L485.1,227.9 L490.4,228.4 L495.7,228.8 L501.0,229.3 L506.3,229.7 L511.6,230.2 L516.9,230.6 L522.2,231.0 L527.5,231.4 L532.8,231.8 L538.1,232.2 L543.4,232.6 L548.7,233.0 L554.0,233.4 L559.3,233.8 L564.6,234.2 L569.9,234.5 L575.2,234.9 L580.5,235.2 L585.8,235.6 L591.1,235.9 L596.4,236.3 L601.7,236.6 L607.0,236.9 L612.3,237.2 L617.6,237.6 L622.9,237.9 L628.2,238.2 L633.5,238.5 L638.8,238.8 L644.1,239.1 L649.4,239.4" fill="none" stroke="#4d6b9f" stroke-width="1.9"/>
<path d="M44.7,-40.0 L45.2,-40.0 L45.8,-40.0 L46.4,-40.0 L47.0,-40.0 L47.5,-40.0 L48.1,-40.0 L48.7,-40.0 L49.2,-40.0 L49.8,-40.0 L50.4,-40.0 L50.9,-40.0 L51.5,-40.0 L52.1,-40.0 L52.6,-40.0 L53.2,-40.0 L53.8,-40.0 L54.3,-40.0 L54.9,-40.0 L55.5,-40.0 L56.1,-40.0 L56.6,-40.0 L57.2,-40.0 L57.8,-40.0 L58.3,-40.0 L58.9,-40.0 L59.5,-40.0 L60.0,-40.0 L60.6,-40.0 L61.2,-40.0 L61.7,-40.0 L62.3,-40.0 L62.9,-40.0 L63.5,-40.0 L64.0,-40.0 L64.6,-40.0 L65.2,-40.0 L65.7,-40.0 L66.3,-40.0 L66.9,-38.7 L67.4,-36.9 L68.0,-35.1 L68.6,-33.3 L69.1,-31.6 L69.7,-29.9 L70.3,-28.2 L70.8,-26.6 L71.4,-25.0 L72.0,-23.4 L72.6,-21.9 L73.1,-20.4 L73.7,-18.9 L74.3,-17.4 L74.8,-16.0 L75.4,-14.5 L76.0,-13.1 L76.5,-11.8 L77.1,-10.4 L77.7,-9.1 L78.2,-7.7 L78.8,-6.5 L79.4,-5.2 L80.0,-3.9 L80.5,-2.7 L81.1,-1.4 L81.7,-0.2 L82.2,1.0 L82.8,2.1 L83.4,3.3 L83.9,4.4 L84.5,5.6 L85.1,6.7 L85.6,7.8 L86.2,8.9 L86.8,10.0 L87.3,11.0 L87.9,12.1 L88.5,13.1 L89.1,14.1 L89.6,15.2 L90.2,16.2 L90.8,17.2 L91.3,18.1 L91.9,19.1 L92.5,20.1 L93.0,21.0 L93.6,22.0 L94.2,22.9 L94.7,23.8 L95.3,24.7 L95.9,25.6 L96.5,26.5 L97.0,27.4 L97.6,28.3 L98.2,29.1 L98.7,30.0 L99.3,30.8 L99.9,31.7 L100.4,32.5 L101.0,33.3 L101.6,34.2 L102.1,35.0 L102.7,35.8 L103.3,36.6 L103.8,37.4 L104.4,38.1 L105.0,38.9 L105.6,39.7 L106.1,40.4 L106.7,41.2 L107.3,42.0 L107.8,42.7 L108.4,43.4 L109.0,44.2 L109.5,44.9 L110.1,45.6 L110.7,46.3 L111.2,47.0 L111.8,47.7 L112.4,48.4 L113.0,49.1 L114.8,51.4 L116.7,53.6 L118.6,55.8 L120.5,57.9 L122.4,59.9 L124.3,61.9 L126.2,63.9 L128.1,65.8 L130.0,67.7 L131.9,69.5 L133.8,71.3 L135.7,73.1 L137.6,74.9 L139.5,76.6 L141.4,78.2 L143.3,79.9 L145.2,81.5 L147.1,83.1 L149.0,84.6 L150.9,86.1 L152.8,87.6 L154.7,89.1 L156.6,90.6 L158.5,92.0 L160.4,93.4 L162.3,94.8 L164.2,96.1 L166.1,97.5 L168.0,98.8 L169.8,100.1 L171.7,101.4 L173.6,102.6 L175.5,103.9 L177.4,105.1 L179.3,106.3 L181.2,107.5 L183.1,108.7 L185.0,109.8 L186.9,111.0 L188.8,112.1 L190.7,113.2 L192.6,114.3 L194.5,115.4 L196.4,116.5 L198.3,117.5 L200.2,118.5 L202.1,119.6 L204.0,120.6 L205.9,121.6 L207.8,122.6 L209.7,123.5 L211.6,124.5 L213.5,125.5 L215.4,126.4 L217.3,127.3 L219.2,128.3 L221.1,129.2 L223.0,130.1 L224.8,130.9 L226.7,131.8 L228.6,132.7 L230.5,133.5 L232.4,134.4 L234.3,135.2 L236.2,136.1 L238.1,136.9 L240.0,137.7 L241.9,138.5 L243.8,139.3 L245.7,140.1 L247.6,140.8 L249.5,141.6 L251.4,142.4 L253.3,143.1 L255.2,143.8 L257.1,144.6 L259.0,145.3 L260.9,146.0 L262.8,146.7 L264.7,147.4 L266.6,148.1 L268.5,148.8 L270.4,149.5 L272.3,150.2 L274.2,150.8 L276.1,151.5 L278.0,152.2 L279.8,152.8 L281.7,153.5 L283.6,154.1 L288.9,155.8 L294.2,157.5 L299.5,159.2 L304.8,160.8 L310.1,162.4 L315.4,163.9 L320.7,165.4 L326.0,166.9 L331.3,168.3 L336.6,169.7 L341.9,171.0 L347.3,172.3 L352.6,173.6 L357.9,174.9 L363.2,176.1 L368.5,177.3 L373.8,178.5 L379.1,179.7 L384.4,180.8 L389.7,181.9 L395.0,183.0 L400.3,184.0 L405.6,185.1 L410.9,186.1 L416.2,187.1 L421.5,188.1 L426.8,189.0 L432.1,190.0 L437.4,190.9 L442.7,191.8 L448.0,192.7 L453.3,193.6 L458.6,194.4 L463.9,195.3 L469.2,196.1 L474.5,196.9 L479.8,197.7 L485.1,198.5 L490.4,199.2 L495.7,200.0 L501.0,200.7 L506.3,201.5 L511.6,202.2 L516.9,202.9 L522.2,203.6 L527.5,204.3 L532.8,205.0 L538.1,205.6 L543.4,206.3 L548.7,206.9 L554.0,207.6 L559.3,208.2 L564.6,208.8 L569.9,209.4 L575.2,210.0 L580.5,210.6 L585.8,211.2 L591.1,211.8 L596.4,212.4 L601.7,212.9 L607.0,213.5 L612.3,214.0 L617.6,214.6 L622.9,215.1 L628.2,215.6 L633.5,216.1 L638.8,216.6 L644.1,217.2 L649.4,217.7" fill="none" stroke="#4d6b9f" stroke-width="1.9" stroke-dasharray="2.5 1.65"/>
<path d="M44.7,-40.0 L45.2,-40.0 L45.8,-40.0 L46.4,-40.0 L47.0,-40.0 L47.5,-40.0 L48.1,-40.0 L48.7,-40.0 L49.2,-40.0 L49.8,-40.0 L50.4,-40.0 L50.9,-40.0 L51.5,-40.0 L52.1,-40.0 L52.6,-40.0 L53.2,-40.0 L53.8,-40.0 L54.3,-40.0 L54.9,-40.0 L55.5,-40.0 L56.1,-40.0 L56.6,-40.0 L57.2,-40.0 L57.8,-40.0 L58.3,-40.0 L58.9,-40.0 L59.5,-40.0 L60.0,-40.0 L60.6,-40.0 L61.2,-40.0 L61.7,-40.0 L62.3,-40.0 L62.9,-40.0 L63.5,-40.0 L64.0,-40.0 L64.6,-40.0 L65.2,-40.0 L65.7,-40.0 L66.3,-40.0 L66.9,-40.0 L67.4,-40.0 L68.0,-40.0 L68.6,-40.0 L69.1,-40.0 L69.7,-40.0 L70.3,-40.0 L70.8,-40.0 L71.4,-40.0 L72.0,-40.0 L72.6,-40.0 L73.1,-40.0 L73.7,-40.0 L74.3,-40.0 L74.8,-40.0 L75.4,-40.0 L76.0,-40.0 L76.5,-40.0 L77.1,-40.0 L77.7,-40.0 L78.2,-40.0 L78.8,-40.0 L79.4,-40.0 L80.0,-40.0 L80.5,-40.0 L81.1,-40.0 L81.7,-40.0 L82.2,-40.0 L82.8,-40.0 L83.4,-40.0 L83.9,-40.0 L84.5,-40.0 L85.1,-40.0 L85.6,-40.0 L86.2,-40.0 L86.8,-40.0 L87.3,-40.0 L87.9,-40.0 L88.5,-40.0 L89.1,-40.0 L89.6,-40.0 L90.2,-40.0 L90.8,-40.0 L91.3,-40.0 L91.9,-40.0 L92.5,-40.0 L93.0,-40.0 L93.6,-40.0 L94.2,-40.0 L94.7,-40.0 L95.3,-40.0 L95.9,-40.0 L96.5,-40.0 L97.0,-39.8 L97.6,-38.9 L98.2,-38.1 L98.7,-37.2 L99.3,-36.4 L99.9,-35.5 L100.4,-34.7 L101.0,-33.9 L101.6,-33.0 L102.1,-32.2 L102.7,-31.4 L103.3,-30.6 L103.8,-29.8 L104.4,-29.1 L105.0,-28.3 L105.6,-27.5 L106.1,-26.7 L106.7,-26.0 L107.3,-25.2 L107.8,-24.5 L108.4,-23.8 L109.0,-23.0 L109.5,-22.3 L110.1,-21.6 L110.7,-20.9 L111.2,-20.2 L111.8,-19.5 L112.4,-18.8 L113.0,-18.1 L114.8,-15.8 L116.7,-13.6 L118.6,-11.4 L120.5,-9.3 L122.4,-7.3 L124.3,-5.3 L126.2,-3.3 L128.1,-1.4 L130.0,0.5 L131.9,2.4 L133.8,4.2 L135.7,5.9 L137.6,7.7 L139.5,9.4 L141.4,11.1 L143.3,12.7 L145.2,14.3 L147.1,15.9 L149.0,17.5 L150.9,19.0 L152.8,20.5 L154.7,22.0 L156.6,23.4 L158.5,24.9 L160.4,26.3 L162.3,27.7 L164.2,29.0 L166.1,30.4 L168.0,31.7 L169.8,33.0 L171.7,34.3 L173.6,35.6 L175.5,36.9 L177.4,38.1 L179.3,39.3 L181.2,40.5 L183.1,41.7 L185.0,42.9 L186.9,44.1 L188.8,45.2 L190.7,46.3 L192.6,47.5 L194.5,48.6 L196.4,49.7 L198.3,50.7 L200.2,51.8 L202.1,52.9 L204.0,53.9 L205.9,54.9 L207.8,55.9 L209.7,57.0 L211.6,58.0 L213.5,58.9 L215.4,59.9 L217.3,60.9 L219.2,61.8 L221.1,62.8 L223.0,63.7 L224.8,64.7 L226.7,65.6 L228.6,66.5 L230.5,67.4 L232.4,68.3 L234.3,69.2 L236.2,70.1 L238.1,70.9 L240.0,71.8 L241.9,72.6 L243.8,73.5 L245.7,74.3 L247.6,75.2 L249.5,76.0 L251.4,76.8 L253.3,77.6 L255.2,78.4 L257.1,79.2 L259.0,80.0 L260.9,80.8 L262.8,81.6 L264.7,82.3 L266.6,83.1 L268.5,83.9 L270.4,84.6 L272.3,85.4 L274.2,86.1 L276.1,86.8 L278.0,87.6 L279.8,88.3 L281.7,89.0 L283.6,89.7 L288.9,91.7 L294.2,93.6 L299.5,95.5 L304.8,97.4 L310.1,99.2 L315.4,101.0 L320.7,102.7 L326.0,104.5 L331.3,106.1 L336.6,107.8 L341.9,109.4 L347.3,111.1 L352.6,112.6 L357.9,114.2 L363.2,115.7 L368.5,117.2 L373.8,118.7 L379.1,120.2 L384.4,121.6 L389.7,123.0 L395.0,124.4 L400.3,125.8 L405.6,127.2 L410.9,128.5 L416.2,129.8 L421.5,131.1 L426.8,132.4 L432.1,133.7 L437.4,134.9 L442.7,136.2 L448.0,137.4 L453.3,138.6 L458.6,139.8 L463.9,140.9 L469.2,142.1 L474.5,143.2 L479.8,144.4 L485.1,145.5 L490.4,146.6 L495.7,147.7 L501.0,148.8 L506.3,149.8 L511.6,150.9 L516.9,151.9 L522.2,152.9 L527.5,154.0 L532.8,155.0 L538.1,156.0 L543.4,156.9 L548.7,157.9 L554.0,158.9 L559.3,159.8 L564.6,160.8 L569.9,161.7 L575.2,162.6 L580.5,163.6 L585.8,164.5 L591.1,165.4 L596.4,166.3 L601.7,167.1 L607.0,168.0 L612.3,168.9 L617.6,169.7 L622.9,170.6 L628.2,171.4 L633.5,172.3 L638.8,173.1 L644.1,173.9 L649.4,174.7" fill="none" stroke="#4d6b9f" stroke-width="1.9" stroke-dasharray="4.7 1.9"/>
<path d="M44.7,-40.0 L45.2,-40.0 L45.8,-40.0 L46.4,-40.0 L47.0,-40.0 L47.5,-40.0 L48.1,-40.0 L48.7,-40.0 L49.2,-40.0 L49.8,-40.0 L50.4,-40.0 L50.9,-40.0 L51.5,-40.0 L52.1,-40.0 L52.6,-40.0 L53.2,-40.0 L53.8,-40.0 L54.3,-40.0 L54.9,-40.0 L55.5,-40.0 L56.1,-40.0 L56.6,-40.0 L57.2,-40.0 L57.8,-40.0 L58.3,-40.0 L58.9,-40.0 L59.5,-40.0 L60.0,-40.0 L60.6,-40.0 L61.2,-40.0 L61.7,-40.0 L62.3,-40.0 L62.9,-40.0 L63.5,-40.0 L64.0,-40.0 L64.6,-40.0 L65.2,-40.0 L65.7,-40.0 L66.3,-40.0 L66.9,-40.0 L67.4,-40.0 L68.0,-40.0 L68.6,-40.0 L69.1,-40.0 L69.7,-40.0 L70.3,-40.0 L70.8,-40.0 L71.4,-40.0 L72.0,-38.9 L72.6,-37.4 L73.1,-35.9 L73.7,-34.4 L74.3,-32.9 L74.8,-31.4 L75.4,-30.0 L76.0,-28.6 L76.5,-27.2 L77.1,-25.9 L77.7,-24.6 L78.2,-23.2 L78.8,-21.9 L79.4,-20.7 L80.0,-19.4 L80.5,-18.2 L81.1,-16.9 L81.7,-15.7 L82.2,-14.5 L82.8,-13.4 L83.4,-12.2 L83.9,-11.0 L84.5,-9.9 L85.1,-8.8 L85.6,-7.7 L86.2,-6.6 L86.8,-5.5 L87.3,-4.5 L87.9,-3.4 L88.5,-2.4 L89.1,-1.3 L89.6,-0.3 L90.2,0.7 L90.8,1.7 L91.3,2.6 L91.9,3.6 L92.5,4.6 L93.0,5.5 L93.6,6.5 L94.2,7.4 L94.7,8.3 L95.3,9.2 L95.9,10.1 L96.5,11.0 L97.0,11.9 L97.6,12.8 L98.2,13.6 L98.7,14.5 L99.3,15.4 L99.9,16.2 L100.4,17.0 L101.0,17.9 L101.6,18.7 L102.1,19.5 L102.7,20.3 L103.3,21.1 L103.8,21.9 L104.4,22.7 L105.0,23.4 L105.6,24.2 L106.1,25.0 L106.7,25.7 L107.3,26.5 L107.8,27.2 L108.4,27.9 L109.0,28.7 L109.5,29.4 L110.1,30.1 L110.7,30.8 L111.2,31.5 L111.8,32.2 L112.4,32.9 L113.0,33.6 L114.8,35.9 L116.7,38.1 L118.6,40.3 L120.5,42.4 L122.4,44.4 L124.3,46.4 L126.2,48.4 L128.1,50.3 L130.0,52.2 L131.9,54.1 L133.8,55.9 L135.7,57.6 L137.6,59.4 L139.5,61.1 L141.4,62.7 L143.3,64.4 L145.2,66.0 L147.1,67.6 L149.0,69.1 L150.9,70.7 L152.8,72.2 L154.7,73.7 L156.6,75.1 L158.5,76.5 L160.4,77.9 L162.3,79.3 L164.2,80.7 L166.1,82.0 L168.0,83.4 L169.8,84.7 L171.7,85.9 L173.6,87.2 L175.5,88.5 L177.4,89.7 L179.3,90.9 L181.2,92.1 L183.1,93.3 L185.0,94.4 L186.9,95.6 L188.8,96.7 L190.7,97.8 L192.6,98.9 L194.5,100.0 L196.4,101.1 L198.3,102.2 L200.2,103.2 L202.1,104.3 L204.0,105.3 L205.9,106.3 L207.8,107.3 L209.7,108.3 L211.6,109.3 L213.5,110.2 L215.4,111.2 L217.3,112.1 L219.2,113.1 L221.1,114.0 L223.0,114.9 L224.8,115.8 L226.7,116.7 L228.6,117.6 L230.5,118.5 L232.4,119.3 L234.3,120.2 L236.2,121.0 L238.1,121.9 L240.0,122.7 L241.9,123.5 L243.8,124.3 L245.7,125.1 L247.6,125.9 L249.5,126.7 L251.4,127.5 L253.3,128.3 L255.2,129.0 L257.1,129.8 L259.0,130.5 L260.9,131.3 L262.8,132.0 L264.7,132.7 L266.6,133.4 L268.5,134.2 L270.4,134.9 L272.3,135.6 L274.2,136.3 L276.1,137.0 L278.0,137.6 L279.8,138.3 L281.7,139.0 L283.6,139.6 L288.9,141.5 L294.2,143.2 L299.5,145.0 L304.8,146.7 L310.1,148.3 L315.4,149.9 L320.7,151.5 L326.0,153.1 L331.3,154.6 L336.6,156.0 L341.9,157.5 L347.3,158.9 L352.6,160.3 L357.9,161.6 L363.2,163.0 L368.5,164.3 L373.8,165.5 L379.1,166.8 L384.4,168.0 L389.7,169.2 L395.0,170.4 L400.3,171.5 L405.6,172.7 L410.9,173.8 L416.2,174.9 L421.5,175.9 L426.8,177.0 L432.1,178.0 L437.4,179.0 L442.7,180.0 L448.0,181.0 L453.3,182.0 L458.6,182.9 L463.9,183.9 L469.2,184.8 L474.5,185.7 L479.8,186.6 L485.1,187.4 L490.4,188.3 L495.7,189.2 L501.0,190.0 L506.3,190.8 L511.6,191.6 L516.9,192.4 L522.2,193.2 L527.5,194.0 L532.8,194.7 L538.1,195.5 L543.4,196.2 L548.7,197.0 L554.0,197.7 L559.3,198.4 L564.6,199.1 L569.9,199.8 L575.2,200.5 L580.5,201.1 L585.8,201.8 L591.1,202.5 L596.4,203.1 L601.7,203.7 L607.0,204.4 L612.3,205.0 L617.6,205.6 L622.9,206.2 L628.2,206.8 L633.5,207.4 L638.8,208.0 L644.1,208.6 L649.4,209.2" fill="none" stroke="#c88a20" stroke-width="1.9" stroke-dasharray="2.5 1.65"/>
<path d="M44.7,-40.0 L45.2,-40.0 L45.8,-40.0 L46.4,-40.0 L47.0,-40.0 L47.5,-40.0 L48.1,-40.0 L48.7,-40.0 L49.2,-40.0 L49.8,-40.0 L50.4,-40.0 L50.9,-40.0 L51.5,-40.0 L52.1,-40.0 L52.6,-40.0 L53.2,-40.0 L53.8,-40.0 L54.3,-40.0 L54.9,-40.0 L55.5,-40.0 L56.1,-40.0 L56.6,-40.0 L57.2,-40.0 L57.8,-40.0 L58.3,-40.0 L58.9,-40.0 L59.5,-40.0 L60.0,-40.0 L60.6,-40.0 L61.2,-40.0 L61.7,-40.0 L62.3,-40.0 L62.9,-40.0 L63.5,-40.0 L64.0,-40.0 L64.6,-40.0 L65.2,-40.0 L65.7,-40.0 L66.3,-40.0 L66.9,-40.0 L67.4,-40.0 L68.0,-40.0 L68.6,-40.0 L69.1,-40.0 L69.7,-40.0 L70.3,-40.0 L70.8,-40.0 L71.4,-40.0 L72.0,-40.0 L72.6,-40.0 L73.1,-40.0 L73.7,-40.0 L74.3,-40.0 L74.8,-40.0 L75.4,-40.0 L76.0,-40.0 L76.5,-40.0 L77.1,-40.0 L77.7,-40.0 L78.2,-40.0 L78.8,-40.0 L79.4,-40.0 L80.0,-40.0 L80.5,-40.0 L81.1,-40.0 L81.7,-40.0 L82.2,-40.0 L82.8,-40.0 L83.4,-40.0 L83.9,-40.0 L84.5,-40.0 L85.1,-40.0 L85.6,-40.0 L86.2,-40.0 L86.8,-40.0 L87.3,-40.0 L87.9,-40.0 L88.5,-40.0 L89.1,-40.0 L89.6,-40.0 L90.2,-40.0 L90.8,-40.0 L91.3,-40.0 L91.9,-40.0 L92.5,-40.0 L93.0,-40.0 L93.6,-40.0 L94.2,-40.0 L94.7,-40.0 L95.3,-40.0 L95.9,-40.0 L96.5,-40.0 L97.0,-40.0 L97.6,-40.0 L98.2,-40.0 L98.7,-40.0 L99.3,-40.0 L99.9,-40.0 L100.4,-40.0 L101.0,-40.0 L101.6,-40.0 L102.1,-39.8 L102.7,-39.0 L103.3,-38.2 L103.8,-37.4 L104.4,-36.6 L105.0,-35.8 L105.6,-35.1 L106.1,-34.3 L106.7,-33.6 L107.3,-32.8 L107.8,-32.1 L108.4,-31.3 L109.0,-30.6 L109.5,-29.9 L110.1,-29.2 L110.7,-28.4 L111.2,-27.7 L111.8,-27.0 L112.4,-26.3 L113.0,-25.6 L114.8,-23.4 L116.7,-21.2 L118.6,-19.0 L120.5,-16.9 L122.4,-14.8 L124.3,-12.8 L126.2,-10.9 L128.1,-8.9 L130.0,-7.1 L131.9,-5.2 L133.8,-3.4 L135.7,-1.6 L137.6,0.1 L139.5,1.8 L141.4,3.5 L143.3,5.1 L145.2,6.7 L147.1,8.3 L149.0,9.9 L150.9,11.4 L152.8,12.9 L154.7,14.4 L156.6,15.9 L158.5,17.3 L160.4,18.7 L162.3,20.1 L164.2,21.5 L166.1,22.8 L168.0,24.2 L169.8,25.5 L171.7,26.8 L173.6,28.0 L175.5,29.3 L177.4,30.5 L179.3,31.7 L181.2,33.0 L183.1,34.1 L185.0,35.3 L186.9,36.5 L188.8,37.6 L190.7,38.8 L192.6,39.9 L194.5,41.0 L196.4,42.1 L198.3,43.2 L200.2,44.2 L202.1,45.3 L204.0,46.3 L205.9,47.4 L207.8,48.4 L209.7,49.4 L211.6,50.4 L213.5,51.4 L215.4,52.4 L217.3,53.3 L219.2,54.3 L221.1,55.2 L223.0,56.2 L224.8,57.1 L226.7,58.0 L228.6,58.9 L230.5,59.8 L232.4,60.7 L234.3,61.6 L236.2,62.5 L238.1,63.4 L240.0,64.2 L241.9,65.1 L243.8,65.9 L245.7,66.8 L247.6,67.6 L249.5,68.4 L251.4,69.2 L253.3,70.0 L255.2,70.9 L257.1,71.7 L259.0,72.4 L260.9,73.2 L262.8,74.0 L264.7,74.8 L266.6,75.5 L268.5,76.3 L270.4,77.1 L272.3,77.8 L274.2,78.5 L276.1,79.3 L278.0,80.0 L279.8,80.7 L281.7,81.5 L283.6,82.2 L288.9,84.1 L294.2,86.1 L299.5,88.0 L304.8,89.8 L310.1,91.7 L315.4,93.4 L320.7,95.2 L326.0,96.9 L331.3,98.6 L336.6,100.3 L341.9,101.9 L347.3,103.6 L352.6,105.2 L357.9,106.7 L363.2,108.3 L368.5,109.8 L373.8,111.3 L379.1,112.7 L384.4,114.2 L389.7,115.6 L395.0,117.0 L400.3,118.4 L405.6,119.8 L410.9,121.2 L416.2,122.5 L421.5,123.8 L426.8,125.1 L432.1,126.4 L437.4,127.7 L442.7,128.9 L448.0,130.1 L453.3,131.4 L458.6,132.6 L463.9,133.8 L469.2,134.9 L474.5,136.1 L479.8,137.2 L485.1,138.4 L490.4,139.5 L495.7,140.6 L501.0,141.7 L506.3,142.8 L511.6,143.9 L516.9,144.9 L522.2,146.0 L527.5,147.0 L532.8,148.1 L538.1,149.1 L543.4,150.1 L548.7,151.1 L554.0,152.1 L559.3,153.1 L564.6,154.0 L569.9,155.0 L575.2,156.0 L580.5,156.9 L585.8,157.8 L591.1,158.8 L596.4,159.7 L601.7,160.6 L607.0,161.5 L612.3,162.4 L617.6,163.3 L622.9,164.2 L628.2,165.0 L633.5,165.9 L638.8,166.8 L644.1,167.6 L649.4,168.5" fill="none" stroke="#c88a20" stroke-width="1.9" stroke-dasharray="4.7 1.9"/>
<path d="M44.7,-40.0 L45.2,-40.0 L45.8,-40.0 L46.4,-40.0 L47.0,-40.0 L47.5,-40.0 L48.1,-40.0 L48.7,-40.0 L49.2,-40.0 L49.8,-40.0 L50.4,-40.0 L50.9,-40.0 L51.5,-40.0 L52.1,-40.0 L52.6,-40.0 L53.2,-40.0 L53.8,-40.0 L54.3,-40.0 L54.9,-40.0 L55.5,-40.0 L56.1,-40.0 L56.6,-40.0 L57.2,-40.0 L57.8,-40.0 L58.3,-40.0 L58.9,-39.8 L59.5,-37.2 L60.0,-34.7 L60.6,-32.3 L61.2,-29.9 L61.7,-27.6 L62.3,-25.3 L62.9,-23.1 L63.5,-20.9 L64.0,-18.8 L64.6,-16.8 L65.2,-14.8 L65.7,-12.8 L66.3,-10.9 L66.9,-9.0 L67.4,-7.2 L68.0,-5.4 L68.6,-3.6 L69.1,-1.9 L69.7,-0.2 L70.3,1.4 L70.8,3.1 L71.4,4.7 L72.0,6.2 L72.6,7.8 L73.1,9.3 L73.7,10.8 L74.3,12.3 L74.8,13.7 L75.4,15.1 L76.0,16.5 L76.5,17.9 L77.1,19.3 L77.7,20.6 L78.2,21.9 L78.8,23.2 L79.4,24.5 L80.0,25.8 L80.5,27.0 L81.1,28.2 L81.7,29.4 L82.2,30.6 L82.8,31.8 L83.4,33.0 L83.9,34.1 L84.5,35.3 L85.1,36.4 L85.6,37.5 L86.2,38.6 L86.8,39.6 L87.3,40.7 L87.9,41.8 L88.5,42.8 L89.1,43.8 L89.6,44.8 L90.2,45.8 L90.8,46.8 L91.3,47.8 L91.9,48.8 L92.5,49.7 L93.0,50.7 L93.6,51.6 L94.2,52.6 L94.7,53.5 L95.3,54.4 L95.9,55.3 L96.5,56.2 L97.0,57.1 L97.6,57.9 L98.2,58.8 L98.7,59.6 L99.3,60.5 L99.9,61.3 L100.4,62.2 L101.0,63.0 L101.6,63.8 L102.1,64.6 L102.7,65.4 L103.3,66.2 L103.8,67.0 L104.4,67.8 L105.0,68.6 L105.6,69.3 L106.1,70.1 L106.7,70.8 L107.3,71.6 L107.8,72.3 L108.4,73.0 L109.0,73.8 L109.5,74.5 L110.1,75.2 L110.7,75.9 L111.2,76.6 L111.8,77.3 L112.4,78.0 L113.0,78.7 L114.8,80.9 L116.7,83.1 L118.6,85.3 L120.5,87.4 L122.4,89.4 L124.3,91.4 L126.2,93.3 L128.1,95.2 L130.0,97.1 L131.9,98.9 L133.8,100.6 L135.7,102.4 L137.6,104.1 L139.5,105.7 L141.4,107.3 L143.3,108.9 L145.2,110.5 L147.1,112.0 L149.0,113.5 L150.9,115.0 L152.8,116.5 L154.7,117.9 L156.6,119.3 L158.5,120.6 L160.4,122.0 L162.3,123.3 L164.2,124.6 L166.1,125.9 L168.0,127.1 L169.8,128.3 L171.7,129.6 L173.6,130.7 L175.5,131.9 L177.4,133.1 L179.3,134.2 L181.2,135.3 L183.1,136.4 L185.0,137.5 L186.9,138.5 L188.8,139.6 L190.7,140.6 L192.6,141.6 L194.5,142.6 L196.4,143.6 L198.3,144.6 L200.2,145.5 L202.1,146.5 L204.0,147.4 L205.9,148.3 L207.8,149.2 L209.7,150.1 L211.6,151.0 L213.5,151.9 L215.4,152.7 L217.3,153.6 L219.2,154.4 L221.1,155.2 L223.0,156.0 L224.8,156.8 L226.7,157.6 L228.6,158.4 L230.5,159.2 L232.4,159.9 L234.3,160.7 L236.2,161.4 L238.1,162.1 L240.0,162.9 L241.9,163.6 L243.8,164.3 L245.7,165.0 L247.6,165.7 L249.5,166.3 L251.4,167.0 L253.3,167.7 L255.2,168.3 L257.1,169.0 L259.0,169.6 L260.9,170.2 L262.8,170.9 L264.7,171.5 L266.6,172.1 L268.5,172.7 L270.4,173.3 L272.3,173.9 L274.2,174.5 L276.1,175.0 L278.0,175.6 L279.8,176.2 L281.7,176.7 L283.6,177.3 L288.9,178.8 L294.2,180.3 L299.5,181.7 L304.8,183.1 L310.1,184.4 L315.4,185.7 L320.7,187.0 L326.0,188.3 L331.3,189.5 L336.6,190.6 L341.9,191.8 L347.3,192.9 L352.6,194.0 L357.9,195.0 L363.2,196.1 L368.5,197.1 L373.8,198.1 L379.1,199.0 L384.4,200.0 L389.7,200.9 L395.0,201.8 L400.3,202.7 L405.6,203.5 L410.9,204.4 L416.2,205.2 L421.5,206.0 L426.8,206.8 L432.1,207.6 L437.4,208.3 L442.7,209.1 L448.0,209.8 L453.3,210.5 L458.6,211.2 L463.9,211.9 L469.2,212.5 L474.5,213.2 L479.8,213.9 L485.1,214.5 L490.4,215.1 L495.7,215.7 L501.0,216.3 L506.3,216.9 L511.6,217.5 L516.9,218.1 L522.2,218.6 L527.5,219.2 L532.8,219.7 L538.1,220.2 L543.4,220.8 L548.7,221.3 L554.0,221.8 L559.3,222.3 L564.6,222.8 L569.9,223.3 L575.2,223.7 L580.5,224.2 L585.8,224.7 L591.1,225.1 L596.4,225.6 L601.7,226.0 L607.0,226.5 L612.3,226.9 L617.6,227.3 L622.9,227.7 L628.2,228.2 L633.5,228.6 L638.8,229.0 L644.1,229.4 L649.4,229.8" fill="none" stroke="#859b2c" stroke-width="1.9"/>
<path d="M44.7,-40.0 L45.2,-40.0 L45.8,-40.0 L46.4,-40.0 L47.0,-40.0 L47.5,-40.0 L48.1,-40.0 L48.7,-40.0 L49.2,-40.0 L49.8,-40.0 L50.4,-40.0 L50.9,-40.0 L51.5,-40.0 L52.1,-40.0 L52.6,-40.0 L53.2,-40.0 L53.8,-40.0 L54.3,-40.0 L54.9,-40.0 L55.5,-40.0 L56.1,-40.0 L56.6,-40.0 L57.2,-39.7 L57.8,-36.9 L58.3,-34.1 L58.9,-31.4 L59.5,-28.8 L60.0,-26.3 L60.6,-23.9 L61.2,-21.5 L61.7,-19.2 L62.3,-16.9 L62.9,-14.7 L63.5,-12.6 L64.0,-10.5 L64.6,-8.4 L65.2,-6.4 L65.7,-4.5 L66.3,-2.5 L66.9,-0.7 L67.4,1.2 L68.0,3.0 L68.6,4.7 L69.1,6.5 L69.7,8.2 L70.3,9.8 L70.8,11.4 L71.4,13.1 L72.0,14.6 L72.6,16.2 L73.1,17.7 L73.7,19.2 L74.3,20.7 L74.8,22.1 L75.4,23.5 L76.0,24.9 L76.5,26.3 L77.1,27.7 L77.7,29.0 L78.2,30.3 L78.8,31.6 L79.4,32.9 L80.0,34.1 L80.5,35.4 L81.1,36.6 L81.7,37.8 L82.2,39.0 L82.8,40.2 L83.4,41.4 L83.9,42.5 L84.5,43.6 L85.1,44.7 L85.6,45.9 L86.2,46.9 L86.8,48.0 L87.3,49.1 L87.9,50.1 L88.5,51.2 L89.1,52.2 L89.6,53.2 L90.2,54.2 L90.8,55.2 L91.3,56.2 L91.9,57.2 L92.5,58.1 L93.0,59.1 L93.6,60.0 L94.2,60.9 L94.7,61.8 L95.3,62.8 L95.9,63.7 L96.5,64.6 L97.0,65.4 L97.6,66.3 L98.2,67.2 L98.7,68.0 L99.3,68.9 L99.9,69.7 L100.4,70.5 L101.0,71.4 L101.6,72.2 L102.1,73.0 L102.7,73.8 L103.3,74.6 L103.8,75.4 L104.4,76.2 L105.0,76.9 L105.6,77.7 L106.1,78.5 L106.7,79.2 L107.3,80.0 L107.8,80.7 L108.4,81.4 L109.0,82.2 L109.5,82.9 L110.1,83.6 L110.7,84.3 L111.2,85.0 L111.8,85.7 L112.4,86.4 L113.0,87.1 L114.8,89.3 L116.7,91.5 L118.6,93.6 L120.5,95.7 L122.4,97.7 L124.3,99.7 L126.2,101.7 L128.1,103.6 L130.0,105.4 L131.9,107.2 L133.8,109.0 L135.7,110.7 L137.6,112.4 L139.5,114.0 L141.4,115.6 L143.3,117.2 L145.2,118.8 L147.1,120.3 L149.0,121.8 L150.9,123.2 L152.8,124.7 L154.7,126.1 L156.6,127.5 L158.5,128.8 L160.4,130.1 L162.3,131.4 L164.2,132.7 L166.1,134.0 L168.0,135.2 L169.8,136.4 L171.7,137.6 L173.6,138.8 L175.5,139.9 L177.4,141.0 L179.3,142.1 L181.2,143.2 L183.1,144.3 L185.0,145.4 L186.9,146.4 L188.8,147.4 L190.7,148.4 L192.6,149.4 L194.5,150.4 L196.4,151.4 L198.3,152.3 L200.2,153.2 L202.1,154.1 L204.0,155.0 L205.9,155.9 L207.8,156.8 L209.7,157.7 L211.6,158.5 L213.5,159.4 L215.4,160.2 L217.3,161.0 L219.2,161.8 L221.1,162.6 L223.0,163.4 L224.8,164.1 L226.7,164.9 L228.6,165.6 L230.5,166.4 L232.4,167.1 L234.3,167.8 L236.2,168.5 L238.1,169.2 L240.0,169.9 L241.9,170.6 L243.8,171.3 L245.7,172.0 L247.6,172.6 L249.5,173.3 L251.4,173.9 L253.3,174.5 L255.2,175.2 L257.1,175.8 L259.0,176.4 L260.9,177.0 L262.8,177.6 L264.7,178.2 L266.6,178.7 L268.5,179.3 L270.4,179.9 L272.3,180.4 L274.2,181.0 L276.1,181.5 L278.0,182.1 L279.8,182.6 L281.7,183.1 L283.6,183.7 L288.9,185.1 L294.2,186.5 L299.5,187.8 L304.8,189.1 L310.1,190.4 L315.4,191.6 L320.7,192.8 L326.0,194.0 L331.3,195.1 L336.6,196.3 L341.9,197.3 L347.3,198.4 L352.6,199.4 L357.9,200.4 L363.2,201.4 L368.5,202.3 L373.8,203.2 L379.1,204.1 L384.4,205.0 L389.7,205.9 L395.0,206.7 L400.3,207.5 L405.6,208.3 L410.9,209.1 L416.2,209.9 L421.5,210.6 L426.8,211.4 L432.1,212.1 L437.4,212.8 L442.7,213.5 L448.0,214.2 L453.3,214.8 L458.6,215.5 L463.9,216.1 L469.2,216.7 L474.5,217.3 L479.8,217.9 L485.1,218.5 L490.4,219.1 L495.7,219.7 L501.0,220.2 L506.3,220.8 L511.6,221.3 L516.9,221.9 L522.2,222.4 L527.5,222.9 L532.8,223.4 L538.1,223.9 L543.4,224.4 L548.7,224.9 L554.0,225.3 L559.3,225.8 L564.6,226.2 L569.9,226.7 L575.2,227.1 L580.5,227.6 L585.8,228.0 L591.1,228.4 L596.4,228.8 L601.7,229.3 L607.0,229.7 L612.3,230.1 L617.6,230.5 L622.9,230.8 L628.2,231.2 L633.5,231.6 L638.8,232.0 L644.1,232.3 L649.4,232.7" fill="none" stroke="#859b2c" stroke-width="1.9" stroke-dasharray="2.5 1.65"/>
<path d="M44.7,-40.0 L45.2,-40.0 L45.8,-40.0 L46.4,-40.0 L47.0,-40.0 L47.5,-40.0 L48.1,-40.0 L48.7,-40.0 L49.2,-40.0 L49.8,-40.0 L50.4,-40.0 L50.9,-40.0 L51.5,-40.0 L52.1,-40.0 L52.6,-40.0 L53.2,-40.0 L53.8,-40.0 L54.3,-40.0 L54.9,-40.0 L55.5,-40.0 L56.1,-40.0 L56.6,-37.9 L57.2,-34.9 L57.8,-32.1 L58.3,-29.3 L58.9,-26.7 L59.5,-24.1 L60.0,-21.5 L60.6,-19.1 L61.2,-16.7 L61.7,-14.4 L62.3,-12.1 L62.9,-9.9 L63.5,-7.8 L64.0,-5.7 L64.6,-3.6 L65.2,-1.6 L65.7,0.3 L66.3,2.2 L66.9,4.1 L67.4,5.9 L68.0,7.7 L68.6,9.5 L69.1,11.2 L69.7,12.9 L70.3,14.6 L70.8,16.2 L71.4,17.8 L72.0,19.4 L72.6,20.9 L73.1,22.5 L73.7,24.0 L74.3,25.4 L74.8,26.9 L75.4,28.3 L76.0,29.7 L76.5,31.1 L77.1,32.4 L77.7,33.8 L78.2,35.1 L78.8,36.4 L79.4,37.7 L80.0,38.9 L80.5,40.2 L81.1,41.4 L81.7,42.6 L82.2,43.8 L82.8,45.0 L83.4,46.1 L83.9,47.3 L84.5,48.4 L85.1,49.5 L85.6,50.6 L86.2,51.7 L86.8,52.8 L87.3,53.9 L87.9,54.9 L88.5,55.9 L89.1,57.0 L89.6,58.0 L90.2,59.0 L90.8,60.0 L91.3,61.0 L91.9,61.9 L92.5,62.9 L93.0,63.8 L93.6,64.8 L94.2,65.7 L94.7,66.6 L95.3,67.5 L95.9,68.4 L96.5,69.3 L97.0,70.2 L97.6,71.1 L98.2,71.9 L98.7,72.8 L99.3,73.7 L99.9,74.5 L100.4,75.3 L101.0,76.1 L101.6,77.0 L102.1,77.8 L102.7,78.6 L103.3,79.4 L103.8,80.2 L104.4,80.9 L105.0,81.7 L105.6,82.5 L106.1,83.2 L106.7,84.0 L107.3,84.7 L107.8,85.5 L108.4,86.2 L109.0,86.9 L109.5,87.7 L110.1,88.4 L110.7,89.1 L111.2,89.8 L111.8,90.5 L112.4,91.2 L113.0,91.9 L114.8,94.1 L116.7,96.3 L118.6,98.4 L120.5,100.5 L122.4,102.5 L124.3,104.5 L126.2,106.5 L128.1,108.3 L130.0,110.2 L131.9,112.0 L133.8,113.8 L135.7,115.5 L137.6,117.2 L139.5,118.8 L141.4,120.4 L143.3,122.0 L145.2,123.6 L147.1,125.1 L149.0,126.6 L150.9,128.0 L152.8,129.5 L154.7,130.9 L156.6,132.2 L158.5,133.6 L160.4,134.9 L162.3,136.2 L164.2,137.5 L166.1,138.7 L168.0,140.0 L169.8,141.2 L171.7,142.4 L173.6,143.5 L175.5,144.7 L177.4,145.8 L179.3,146.9 L181.2,148.0 L183.1,149.0 L185.0,150.1 L186.9,151.1 L188.8,152.1 L190.7,153.1 L192.6,154.1 L194.5,155.1 L196.4,156.0 L198.3,157.0 L200.2,157.9 L202.1,158.8 L204.0,159.7 L205.9,160.6 L207.8,161.4 L209.7,162.3 L211.6,163.1 L213.5,163.9 L215.4,164.8 L217.3,165.6 L219.2,166.4 L221.1,167.1 L223.0,167.9 L224.8,168.7 L226.7,169.4 L228.6,170.1 L230.5,170.9 L232.4,171.6 L234.3,172.3 L236.2,173.0 L238.1,173.7 L240.0,174.4 L241.9,175.0 L243.8,175.7 L245.7,176.3 L247.6,177.0 L249.5,177.6 L251.4,178.2 L253.3,178.9 L255.2,179.5 L257.1,180.1 L259.0,180.7 L260.9,181.3 L262.8,181.8 L264.7,182.4 L266.6,183.0 L268.5,183.5 L270.4,184.1 L272.3,184.6 L274.2,185.2 L276.1,185.7 L278.0,186.2 L279.8,186.8 L281.7,187.3 L283.6,187.8 L288.9,189.2 L294.2,190.5 L299.5,191.8 L304.8,193.1 L310.1,194.3 L315.4,195.5 L320.7,196.7 L326.0,197.8 L331.3,198.9 L336.6,200.0 L341.9,201.0 L347.3,202.0 L352.6,203.0 L357.9,203.9 L363.2,204.9 L368.5,205.8 L373.8,206.7 L379.1,207.5 L384.4,208.4 L389.7,209.2 L395.0,210.0 L400.3,210.8 L405.6,211.6 L410.9,212.3 L416.2,213.0 L421.5,213.8 L426.8,214.5 L432.1,215.1 L437.4,215.8 L442.7,216.5 L448.0,217.1 L453.3,217.8 L458.6,218.4 L463.9,219.0 L469.2,219.6 L474.5,220.2 L479.8,220.7 L485.1,221.3 L490.4,221.9 L495.7,222.4 L501.0,222.9 L506.3,223.5 L511.6,224.0 L516.9,224.5 L522.2,225.0 L527.5,225.5 L532.8,226.0 L538.1,226.4 L543.4,226.9 L548.7,227.3 L554.0,227.8 L559.3,228.2 L564.6,228.7 L569.9,229.1 L575.2,229.5 L580.5,229.9 L585.8,230.4 L591.1,230.8 L596.4,231.2 L601.7,231.6 L607.0,231.9 L612.3,232.3 L617.6,232.7 L622.9,233.1 L628.2,233.4 L633.5,233.8 L638.8,234.2 L644.1,234.5 L649.4,234.9" fill="none" stroke="#859b2c" stroke-width="1.9" stroke-dasharray="4.7 1.9"/>
<path d="M44.7,460.0 L45.2,460.0 L45.8,460.0 L46.4,460.0 L47.0,460.0 L47.5,460.0 L48.1,460.0 L48.7,460.0 L49.2,460.0 L49.8,460.0 L50.4,460.0 L50.9,460.0 L51.5,460.0 L52.1,460.0 L52.6,460.0 L53.2,460.0 L53.8,460.0 L54.3,460.0 L54.9,460.0 L55.5,460.0 L56.1,460.0 L56.6,460.0 L57.2,460.0 L57.8,460.0 L58.3,460.0 L58.9,460.0 L59.5,460.0 L60.0,460.0 L60.6,460.0 L61.2,460.0 L61.7,460.0 L62.3,460.0 L62.9,460.0 L63.5,460.0 L64.0,460.0 L64.6,460.0 L65.2,460.0 L65.7,460.0 L66.3,460.0 L66.9,460.0 L67.4,460.0 L68.0,460.0 L68.6,460.0 L69.1,460.0 L69.7,460.0 L70.3,460.0 L70.8,460.0 L71.4,460.0 L72.0,460.0 L72.6,460.0 L73.1,460.0 L73.7,460.0 L74.3,460.0 L74.8,460.0 L75.4,460.0 L76.0,460.0 L76.5,459.7 L77.1,456.2 L77.7,452.9 L78.2,449.6 L78.8,446.5 L79.4,443.5 L80.0,440.5 L80.5,437.7 L81.1,434.9 L81.7,432.2 L82.2,429.6 L82.8,427.1 L83.4,424.6 L83.9,422.2 L84.5,419.9 L85.1,417.7 L85.6,415.5 L86.2,413.4 L86.8,411.3 L87.3,409.3 L87.9,407.3 L88.5,405.4 L89.1,403.6 L89.6,401.7 L90.2,400.0 L90.8,398.2 L91.3,396.6 L91.9,394.9 L92.5,393.3 L93.0,391.8 L93.6,390.2 L94.2,388.7 L94.7,387.3 L95.3,385.9 L95.9,384.5 L96.5,383.1 L97.0,381.8 L97.6,380.5 L98.2,379.2 L98.7,377.9 L99.3,376.7 L99.9,375.5 L100.4,374.4 L101.0,373.2 L101.6,372.1 L102.1,371.0 L102.7,369.9 L103.3,368.9 L103.8,367.8 L104.4,366.8 L105.0,365.8 L105.6,364.8 L106.1,363.9 L106.7,362.9 L107.3,362.0 L107.8,361.1 L108.4,360.2 L109.0,359.3 L109.5,358.5 L110.1,357.6 L110.7,356.8 L111.2,356.0 L111.8,355.2 L112.4,354.4 L113.0,353.6 L114.8,351.2 L116.7,348.8 L118.6,346.6 L120.5,344.5 L122.4,342.5 L124.3,340.6 L126.2,338.7 L128.1,337.0 L130.0,335.4 L131.9,333.8 L133.8,332.3 L135.7,330.8 L137.6,329.4 L139.5,328.1 L141.4,326.8 L143.3,325.6 L145.2,324.4 L147.1,323.3 L149.0,322.2 L150.9,321.2 L152.8,320.1 L154.7,319.2 L156.6,318.2 L158.5,317.3 L160.4,316.4 L162.3,315.6 L164.2,314.8 L166.1,314.0 L168.0,313.2 L169.8,312.4 L171.7,311.7 L173.6,311.0 L175.5,310.3 L177.4,309.7 L179.3,309.0 L181.2,308.4 L183.1,307.8 L185.0,307.2 L186.9,306.6 L188.8,306.1 L190.7,305.5 L192.6,305.0 L194.5,304.5 L196.4,304.0 L198.3,303.5 L200.2,303.0 L202.1,302.5 L204.0,302.1 L205.9,301.6 L207.8,301.2 L209.7,300.8 L211.6,300.3 L213.5,299.9 L215.4,299.5 L217.3,299.2 L219.2,298.8 L221.1,298.4 L223.0,298.0 L224.8,297.7 L226.7,297.3 L228.6,297.0 L230.5,296.7 L232.4,296.3 L234.3,296.0 L236.2,295.7 L238.1,295.4 L240.0,295.1 L241.9,294.8 L243.8,294.5 L245.7,294.2 L247.6,293.9 L249.5,293.7 L251.4,293.4 L253.3,293.1 L255.2,292.9 L257.1,292.6 L259.0,292.4 L260.9,292.1 L262.8,291.9 L264.7,291.7 L266.6,291.4 L268.5,291.2 L270.4,291.0 L272.3,290.7 L274.2,290.5 L276.1,290.3 L278.0,290.1 L279.8,289.9 L281.7,289.7 L283.6,289.5 L288.9,289.0 L294.2,288.4 L299.5,287.9 L304.8,287.5 L310.1,287.0 L315.4,286.5 L320.7,286.1 L326.0,285.7 L331.3,285.3 L336.6,284.9 L341.9,284.6 L347.3,284.2 L352.6,283.9 L357.9,283.5 L363.2,283.2 L368.5,282.9 L373.8,282.6 L379.1,282.3 L384.4,282.0 L389.7,281.8 L395.0,281.5 L400.3,281.2 L405.6,281.0 L410.9,280.8 L416.2,280.5 L421.5,280.3 L426.8,280.1 L432.1,279.8 L437.4,279.6 L442.7,279.4 L448.0,279.2 L453.3,279.0 L458.6,278.8 L463.9,278.6 L469.2,278.5 L474.5,278.3 L479.8,278.1 L485.1,277.9 L490.4,277.8 L495.7,277.6 L501.0,277.4 L506.3,277.3 L511.6,277.1 L516.9,277.0 L522.2,276.8 L527.5,276.7 L532.8,276.6 L538.1,276.4 L543.4,276.3 L548.7,276.1 L554.0,276.0 L559.3,275.9 L564.6,275.8 L569.9,275.6 L575.2,275.5 L580.5,275.4 L585.8,275.3 L591.1,275.2 L596.4,275.1 L601.7,274.9 L607.0,274.8 L612.3,274.7 L617.6,274.6 L622.9,274.5 L628.2,274.4 L633.5,274.3 L638.8,274.2 L644.1,274.1 L649.4,274.0" fill="none" stroke="#dd5c2e" stroke-width="1.9"/>
<path d="M44.7,460.0 L45.2,460.0 L45.8,460.0 L46.4,460.0 L47.0,460.0 L47.5,460.0 L48.1,460.0 L48.7,460.0 L49.2,460.0 L49.8,460.0 L50.4,460.0 L50.9,460.0 L51.5,460.0 L52.1,460.0 L52.6,460.0 L53.2,460.0 L53.8,460.0 L54.3,460.0 L54.9,460.0 L55.5,460.0 L56.1,460.0 L56.6,460.0 L57.2,460.0 L57.8,460.0 L58.3,460.0 L58.9,460.0 L59.5,460.0 L60.0,460.0 L60.6,460.0 L61.2,460.0 L61.7,460.0 L62.3,460.0 L62.9,460.0 L63.5,460.0 L64.0,460.0 L64.6,460.0 L65.2,460.0 L65.7,460.0 L66.3,460.0 L66.9,460.0 L67.4,460.0 L68.0,460.0 L68.6,460.0 L69.1,460.0 L69.7,455.8 L70.3,451.6 L70.8,447.6 L71.4,443.8 L72.0,440.1 L72.6,436.6 L73.1,433.2 L73.7,429.9 L74.3,426.8 L74.8,423.7 L75.4,420.8 L76.0,418.0 L76.5,415.2 L77.1,412.6 L77.7,410.0 L78.2,407.6 L78.8,405.2 L79.4,402.9 L80.0,400.6 L80.5,398.5 L81.1,396.4 L81.7,394.3 L82.2,392.4 L82.8,390.4 L83.4,388.6 L83.9,386.8 L84.5,385.0 L85.1,383.3 L85.6,381.6 L86.2,380.0 L86.8,378.4 L87.3,376.9 L87.9,375.4 L88.5,374.0 L89.1,372.5 L89.6,371.2 L90.2,369.8 L90.8,368.5 L91.3,367.2 L91.9,366.0 L92.5,364.8 L93.0,363.6 L93.6,362.4 L94.2,361.3 L94.7,360.1 L95.3,359.1 L95.9,358.0 L96.5,357.0 L97.0,355.9 L97.6,354.9 L98.2,354.0 L98.7,353.0 L99.3,352.1 L99.9,351.2 L100.4,350.3 L101.0,349.4 L101.6,348.5 L102.1,347.7 L102.7,346.9 L103.3,346.1 L103.8,345.3 L104.4,344.5 L105.0,343.7 L105.6,343.0 L106.1,342.3 L106.7,341.5 L107.3,340.8 L107.8,340.1 L108.4,339.5 L109.0,338.8 L109.5,338.1 L110.1,337.5 L110.7,336.8 L111.2,336.2 L111.8,335.6 L112.4,335.0 L113.0,334.4 L114.8,332.5 L116.7,330.7 L118.6,329.0 L120.5,327.4 L122.4,325.8 L124.3,324.3 L126.2,322.9 L128.1,321.6 L130.0,320.3 L131.9,319.1 L133.8,318.0 L135.7,316.8 L137.6,315.8 L139.5,314.7 L141.4,313.7 L143.3,312.8 L145.2,311.9 L147.1,311.0 L149.0,310.2 L150.9,309.4 L152.8,308.6 L154.7,307.8 L156.6,307.1 L158.5,306.4 L160.4,305.7 L162.3,305.0 L164.2,304.4 L166.1,303.8 L168.0,303.2 L169.8,302.6 L171.7,302.0 L173.6,301.5 L175.5,300.9 L177.4,300.4 L179.3,299.9 L181.2,299.4 L183.1,299.0 L185.0,298.5 L186.9,298.0 L188.8,297.6 L190.7,297.2 L192.6,296.8 L194.5,296.4 L196.4,296.0 L198.3,295.6 L200.2,295.2 L202.1,294.8 L204.0,294.5 L205.9,294.1 L207.8,293.8 L209.7,293.5 L211.6,293.1 L213.5,292.8 L215.4,292.5 L217.3,292.2 L219.2,291.9 L221.1,291.6 L223.0,291.3 L224.8,291.1 L226.7,290.8 L228.6,290.5 L230.5,290.3 L232.4,290.0 L234.3,289.7 L236.2,289.5 L238.1,289.3 L240.0,289.0 L241.9,288.8 L243.8,288.6 L245.7,288.3 L247.6,288.1 L249.5,287.9 L251.4,287.7 L253.3,287.5 L255.2,287.3 L257.1,287.1 L259.0,286.9 L260.9,286.7 L262.8,286.5 L264.7,286.3 L266.6,286.1 L268.5,286.0 L270.4,285.8 L272.3,285.6 L274.2,285.4 L276.1,285.3 L278.0,285.1 L279.8,284.9 L281.7,284.8 L283.6,284.6 L288.9,284.2 L294.2,283.8 L299.5,283.4 L304.8,283.0 L310.1,282.6 L315.4,282.3 L320.7,282.0 L326.0,281.6 L331.3,281.3 L336.6,281.0 L341.9,280.7 L347.3,280.5 L352.6,280.2 L357.9,279.9 L363.2,279.7 L368.5,279.4 L373.8,279.2 L379.1,279.0 L384.4,278.7 L389.7,278.5 L395.0,278.3 L400.3,278.1 L405.6,277.9 L410.9,277.7 L416.2,277.5 L421.5,277.3 L426.8,277.2 L432.1,277.0 L437.4,276.8 L442.7,276.7 L448.0,276.5 L453.3,276.3 L458.6,276.2 L463.9,276.0 L469.2,275.9 L474.5,275.8 L479.8,275.6 L485.1,275.5 L490.4,275.4 L495.7,275.2 L501.0,275.1 L506.3,275.0 L511.6,274.9 L516.9,274.7 L522.2,274.6 L527.5,274.5 L532.8,274.4 L538.1,274.3 L543.4,274.2 L548.7,274.1 L554.0,274.0 L559.3,273.9 L564.6,273.8 L569.9,273.7 L575.2,273.6 L580.5,273.5 L585.8,273.4 L591.1,273.3 L596.4,273.2 L601.7,273.1 L607.0,273.0 L612.3,272.9 L617.6,272.9 L622.9,272.8 L628.2,272.7 L633.5,272.6 L638.8,272.5 L644.1,272.5 L649.4,272.4" fill="none" stroke="#dd5c2e" stroke-width="1.9" stroke-dasharray="2.5 1.65"/>
<path d="M44.7,460.0 L45.2,460.0 L45.8,460.0 L46.4,460.0 L47.0,460.0 L47.5,460.0 L48.1,460.0 L48.7,460.0 L49.2,460.0 L49.8,460.0 L50.4,460.0 L50.9,460.0 L51.5,460.0 L52.1,460.0 L52.6,460.0 L53.2,460.0 L53.8,460.0 L54.3,460.0 L54.9,460.0 L55.5,460.0 L56.1,460.0 L56.6,460.0 L57.2,460.0 L57.8,460.0 L58.3,460.0 L58.9,460.0 L59.5,460.0 L60.0,460.0 L60.6,460.0 L61.2,460.0 L61.7,460.0 L62.3,460.0 L62.9,460.0 L63.5,460.0 L64.0,456.6 L64.6,451.4 L65.2,446.6 L65.7,441.9 L66.3,437.5 L66.9,433.3 L67.4,429.3 L68.0,425.4 L68.6,421.8 L69.1,418.3 L69.7,414.9 L70.3,411.7 L70.8,408.6 L71.4,405.6 L72.0,402.8 L72.6,400.0 L73.1,397.4 L73.7,394.9 L74.3,392.4 L74.8,390.1 L75.4,387.8 L76.0,385.6 L76.5,383.5 L77.1,381.5 L77.7,379.5 L78.2,377.6 L78.8,375.7 L79.4,373.9 L80.0,372.2 L80.5,370.5 L81.1,368.9 L81.7,367.3 L82.2,365.8 L82.8,364.3 L83.4,362.8 L83.9,361.4 L84.5,360.0 L85.1,358.7 L85.6,357.4 L86.2,356.2 L86.8,354.9 L87.3,353.7 L87.9,352.6 L88.5,351.4 L89.1,350.3 L89.6,349.3 L90.2,348.2 L90.8,347.2 L91.3,346.2 L91.9,345.2 L92.5,344.3 L93.0,343.3 L93.6,342.4 L94.2,341.5 L94.7,340.7 L95.3,339.8 L95.9,339.0 L96.5,338.2 L97.0,337.4 L97.6,336.6 L98.2,335.8 L98.7,335.1 L99.3,334.4 L99.9,333.7 L100.4,333.0 L101.0,332.3 L101.6,331.6 L102.1,330.9 L102.7,330.3 L103.3,329.7 L103.8,329.0 L104.4,328.4 L105.0,327.8 L105.6,327.3 L106.1,326.7 L106.7,326.1 L107.3,325.6 L107.8,325.0 L108.4,324.5 L109.0,324.0 L109.5,323.4 L110.1,322.9 L110.7,322.4 L111.2,321.9 L111.8,321.5 L112.4,321.0 L113.0,320.5 L114.8,319.0 L116.7,317.6 L118.6,316.3 L120.5,315.0 L122.4,313.8 L124.3,312.6 L126.2,311.5 L128.1,310.4 L130.0,309.4 L131.9,308.5 L133.8,307.6 L135.7,306.7 L137.6,305.8 L139.5,305.0 L141.4,304.2 L143.3,303.5 L145.2,302.8 L147.1,302.1 L149.0,301.4 L150.9,300.7 L152.8,300.1 L154.7,299.5 L156.6,298.9 L158.5,298.4 L160.4,297.8 L162.3,297.3 L164.2,296.8 L166.1,296.3 L168.0,295.8 L169.8,295.4 L171.7,294.9 L173.6,294.5 L175.5,294.1 L177.4,293.6 L179.3,293.2 L181.2,292.9 L183.1,292.5 L185.0,292.1 L186.9,291.8 L188.8,291.4 L190.7,291.1 L192.6,290.7 L194.5,290.4 L196.4,290.1 L198.3,289.8 L200.2,289.5 L202.1,289.2 L204.0,288.9 L205.9,288.6 L207.8,288.4 L209.7,288.1 L211.6,287.8 L213.5,287.6 L215.4,287.3 L217.3,287.1 L219.2,286.9 L221.1,286.6 L223.0,286.4 L224.8,286.2 L226.7,286.0 L228.6,285.7 L230.5,285.5 L232.4,285.3 L234.3,285.1 L236.2,284.9 L238.1,284.7 L240.0,284.5 L241.9,284.4 L243.8,284.2 L245.7,284.0 L247.6,283.8 L249.5,283.7 L251.4,283.5 L253.3,283.3 L255.2,283.2 L257.1,283.0 L259.0,282.8 L260.9,282.7 L262.8,282.5 L264.7,282.4 L266.6,282.2 L268.5,282.1 L270.4,281.9 L272.3,281.8 L274.2,281.7 L276.1,281.5 L278.0,281.4 L279.8,281.3 L281.7,281.1 L283.6,281.0 L288.9,280.7 L294.2,280.3 L299.5,280.0 L304.8,279.7 L310.1,279.4 L315.4,279.2 L320.7,278.9 L326.0,278.6 L331.3,278.4 L336.6,278.1 L341.9,277.9 L347.3,277.7 L352.6,277.5 L357.9,277.2 L363.2,277.0 L368.5,276.8 L373.8,276.7 L379.1,276.5 L384.4,276.3 L389.7,276.1 L395.0,275.9 L400.3,275.8 L405.6,275.6 L410.9,275.5 L416.2,275.3 L421.5,275.2 L426.8,275.0 L432.1,274.9 L437.4,274.7 L442.7,274.6 L448.0,274.5 L453.3,274.4 L458.6,274.2 L463.9,274.1 L469.2,274.0 L474.5,273.9 L479.8,273.8 L485.1,273.7 L490.4,273.6 L495.7,273.5 L501.0,273.3 L506.3,273.2 L511.6,273.2 L516.9,273.1 L522.2,273.0 L527.5,272.9 L532.8,272.8 L538.1,272.7 L543.4,272.6 L548.7,272.5 L554.0,272.4 L559.3,272.4 L564.6,272.3 L569.9,272.2 L575.2,272.1 L580.5,272.0 L585.8,272.0 L591.1,271.9 L596.4,271.8 L601.7,271.7 L607.0,271.7 L612.3,271.6 L617.6,271.5 L622.9,271.5 L628.2,271.4 L633.5,271.3 L638.8,271.3 L644.1,271.2 L649.4,271.2" fill="none" stroke="#dd5c2e" stroke-width="1.9" stroke-dasharray="4.7 1.9"/>
</g>
<line x1="40.0" y1="265.9" x2="649.2" y2="265.9" stroke="#000" stroke-width="1.6"/>
<g stroke="#000" stroke-width="1.4" fill="none">
<line x1="100.8" y1="407.8" x2="100.8" y2="404.5"/>
<line x1="161.7" y1="407.8" x2="161.7" y2="401.5"/>
<line x1="222.7" y1="407.8" x2="222.7" y2="404.5"/>
<line x1="283.6" y1="407.8" x2="283.6" y2="401.5"/>
<line x1="344.6" y1="407.8" x2="344.6" y2="404.5"/>
<line x1="405.6" y1="407.8" x2="405.6" y2="401.5"/>
<line x1="466.5" y1="407.8" x2="466.5" y2="404.5"/>
<line x1="527.5" y1="407.8" x2="527.5" y2="401.5"/>
<line x1="588.4" y1="407.8" x2="588.4" y2="404.5"/>
<line x1="649.4" y1="407.8" x2="649.4" y2="401.5"/>
<line x1="40.0" y1="21.3" x2="45.9" y2="21.3"/>
<line x1="40.0" y1="82.4" x2="45.9" y2="82.4"/>
<line x1="40.0" y1="143.6" x2="45.9" y2="143.6"/>
<line x1="40.0" y1="204.7" x2="45.9" y2="204.7"/>
<line x1="40.0" y1="265.9" x2="45.9" y2="265.9"/>
<line x1="40.0" y1="327.0" x2="45.9" y2="327.0"/>
<line x1="40.0" y1="388.2" x2="45.9" y2="388.2"/>
</g>
<rect x="40.0" y="1.6" width="609.2" height="406.2" fill="none" stroke="#000" stroke-width="1.6"/>
<g font-size="20" fill="#000" stroke="#000" stroke-width="0.2">
<text x="161.8" y="428.3" text-anchor="middle">0.1</text>
<text x="283.7" y="428.3" text-anchor="middle">0.2</text>
<text x="405.7" y="428.3" text-anchor="middle">0.3</text>
<text x="527.6" y="428.3" text-anchor="middle">0.4</text>
<text x="649.5" y="428.3" text-anchor="middle">0.5</text>
<text x="37.9" y="28.2" text-anchor="end">16</text>
<text x="37.9" y="89.3" text-anchor="end">8</text>
<text x="37.9" y="150.5" text-anchor="end">4</text>
<text x="37.9" y="211.6" text-anchor="end">2</text>
<text x="38.3" y="272.8" text-anchor="end">1</text>
<text x="31.2" y="323.2" text-anchor="middle" font-size="13.8">1</text>
<line x1="26.4" y1="324.9" x2="36.05" y2="324.9" stroke="#000" stroke-width="1.5"/>
<text x="30.7" y="340.6" text-anchor="middle" font-size="13.8">2</text>
<text x="31.2" y="384.4" text-anchor="middle" font-size="13.8">1</text>
<line x1="26.4" y1="386.1" x2="36.05" y2="386.1" stroke="#000" stroke-width="1.5"/>
<text x="30.7" y="401.8" text-anchor="middle" font-size="13.8">4</text>
</g>
<text x="344.3" y="441.3" font-size="22.5" text-anchor="middle" fill="#000" stroke="#000" stroke-width="0.2">v</text>
<g transform="translate(13.5,238.8) rotate(-90)" fill="#000" stroke="#000" stroke-width="0.2">
<text x="-0.74" y="0" font-size="22.5" font-style="italic">σ</text>
<text x="13.75" y="4.2" font-size="15.5">S</text>
<text x="24.3" y="0" font-size="22.5">/</text>
<text x="30.06" y="0" font-size="22.5" font-style="italic">σ</text>
<text x="43.75" y="4.2" font-size="15">pert</text>
</g>
<rect x="497" y="290.0" width="30.7" height="18.2" fill="#4d6b9f" fill-opacity="0.33"/>
<line x1="496.1" y1="289.6" x2="528.4" y2="289.6" stroke="#4d6b9f" stroke-width="1.8" stroke-dasharray="4.9 1.7"/>
<line x1="496.1" y1="298.8" x2="528.4" y2="298.8" stroke="#4d6b9f" stroke-width="1.8" stroke-dasharray="2.6 1.55"/>
<line x1="496.1" y1="308.1" x2="528.5" y2="308.1" stroke="#4d6b9f" stroke-width="1.8"/>
<text x="529.5" y="293.7" font-size="7.9" font-weight="bold" fill="#4d6b9f">N=10</text>
<text x="529.5" y="301.4" font-size="7.9" font-weight="bold" fill="#4d6b9f">N=5</text>
<text x="529.5" y="309.2" font-size="7.9" font-weight="bold" fill="#4d6b9f">N=3</text>
<g font-size="15.5" font-style="italic" font-weight="bold" fill="#4d6b9f" stroke="#4d6b9f" stroke-width="0"><text transform="translate(565.9,304.4) scale(1,0.89)" stroke-width="0.3">ψ</text><text transform="translate(578.7,304.4) scale(1,0.89)" stroke-width="0.3">ψ</text><text font-size="15.9" transform="translate(615.20,303.3) scale(0.96,1)">q</text><text font-size="15.9" transform="translate(627.60,303.3) scale(0.96,1)">q</text></g>
<path d="M596.7,300.1 H608.2 M605.7,297.0 L608.6,300.1 L605.7,303.2" fill="none" stroke="#4d6b9f" stroke-width="1.7"/>
<line x1="578.3" y1="291.8" x2="592.1" y2="291.8" stroke="#4d6b9f" stroke-width="1.3"/>
<line x1="625.3" y1="292.2" x2="637.9" y2="292.2" stroke="#4d6b9f" stroke-width="1.3"/>
<rect x="497" y="319.1" width="30.7" height="18.2" fill="#c88a20" fill-opacity="0.33"/>
<line x1="496.1" y1="318.7" x2="528.4" y2="318.7" stroke="#c88a20" stroke-width="1.8" stroke-dasharray="4.9 1.7"/>
<line x1="496.1" y1="327.9" x2="528.4" y2="327.9" stroke="#c88a20" stroke-width="1.8" stroke-dasharray="2.6 1.55"/>
<line x1="496.1" y1="337.2" x2="528.5" y2="337.2" stroke="#c88a20" stroke-width="1.8"/>
<text x="529.5" y="322.8" font-size="7.9" font-weight="bold" fill="#c88a20">N=10</text>
<text x="529.5" y="330.6" font-size="7.9" font-weight="bold" fill="#c88a20">N=5</text>
<text x="529.5" y="338.3" font-size="7.9" font-weight="bold" fill="#c88a20">N=3</text>
<g font-size="15.5" font-style="italic" font-weight="bold" fill="#c88a20" stroke="#c88a20" stroke-width="0"><text transform="translate(565.9,334.1) scale(1,0.89)" stroke-width="0.3">ψ</text><text transform="translate(578.7,334.1) scale(1,0.89)" stroke-width="0.3">ψ</text><text font-size="15.9" transform="translate(615.40,332.9) scale(0.96,1)">g</text><text font-size="15.9" transform="translate(628.10,332.9) scale(0.96,1)">g</text></g>
<path d="M596.7,329.8 H608.2 M605.7,326.6 L608.6,329.8 L605.7,332.9" fill="none" stroke="#c88a20" stroke-width="1.7"/>
<line x1="578.3" y1="321.4" x2="592.1" y2="321.4" stroke="#c88a20" stroke-width="1.3"/>
<rect x="497" y="348.2" width="30.7" height="18.2" fill="#859b2c" fill-opacity="0.33"/>
<line x1="496.1" y1="347.8" x2="528.4" y2="347.8" stroke="#859b2c" stroke-width="1.8" stroke-dasharray="4.9 1.7"/>
<line x1="496.1" y1="357.0" x2="528.4" y2="357.0" stroke="#859b2c" stroke-width="1.8" stroke-dasharray="2.6 1.55"/>
<line x1="496.1" y1="366.3" x2="528.5" y2="366.3" stroke="#859b2c" stroke-width="1.8"/>
<text x="529.5" y="351.9" font-size="7.9" font-weight="bold" fill="#859b2c">N=10</text>
<text x="529.5" y="359.6" font-size="7.9" font-weight="bold" fill="#859b2c">N=5</text>
<text x="529.5" y="367.4" font-size="7.9" font-weight="bold" fill="#859b2c">N=3</text>
<g font-size="15.5" font-style="italic" font-weight="bold" fill="#859b2c" stroke="#859b2c" stroke-width="0"><text transform="translate(565.9,363.4) scale(1,0.89)" stroke-width="0.3">ψ</text><text transform="translate(578.7,363.4) scale(1,0.89)" stroke-width="0.3">ψ</text><text font-size="15.9" transform="translate(615.25,362.3) scale(0.99,1)">G</text><text font-size="15.9" transform="translate(630.75,362.3) scale(0.99,1)">G</text></g>
<path d="M596.7,359.1 H608.2 M605.7,356.0 L608.6,359.1 L605.7,362.2" fill="none" stroke="#859b2c" stroke-width="1.7"/>
<line x1="578.3" y1="350.8" x2="592.1" y2="350.8" stroke="#859b2c" stroke-width="1.3"/>
<rect x="497" y="377.3" width="30.7" height="18.2" fill="#dd5c2e" fill-opacity="0.33"/>
<line x1="496.1" y1="376.9" x2="528.4" y2="376.9" stroke="#dd5c2e" stroke-width="1.8" stroke-dasharray="4.9 1.7"/>
<line x1="496.1" y1="386.1" x2="528.4" y2="386.1" stroke="#dd5c2e" stroke-width="1.8" stroke-dasharray="2.6 1.55"/>
<line x1="496.1" y1="395.4" x2="528.5" y2="395.4" stroke="#dd5c2e" stroke-width="1.8"/>
<text x="529.5" y="381.0" font-size="7.9" font-weight="bold" fill="#dd5c2e">N=10</text>
<text x="529.5" y="388.8" font-size="7.9" font-weight="bold" fill="#dd5c2e">N=5</text>
<text x="529.5" y="396.5" font-size="7.9" font-weight="bold" fill="#dd5c2e">N=3</text>
<g font-size="15.5" font-style="italic" font-weight="bold" fill="#dd5c2e" stroke="#dd5c2e" stroke-width="0"><text transform="translate(565.9,391.8) scale(1,0.89)" stroke-width="0.3">ψ</text><text transform="translate(578.7,391.8) scale(1,0.89)" stroke-width="0.3">ψ</text><text font-size="15.9" transform="translate(615.40,390.7) scale(0.96,1)">g</text><text font-size="15.9" transform="translate(627.75,390.7) scale(0.99,1)">G</text></g>
<path d="M596.7,387.5 H608.2 M605.7,384.4 L608.6,387.5 L605.7,390.6" fill="none" stroke="#dd5c2e" stroke-width="1.7"/>
<line x1="578.3" y1="379.2" x2="592.1" y2="379.2" stroke="#dd5c2e" stroke-width="1.3"/>
</svg>
</body></html>
